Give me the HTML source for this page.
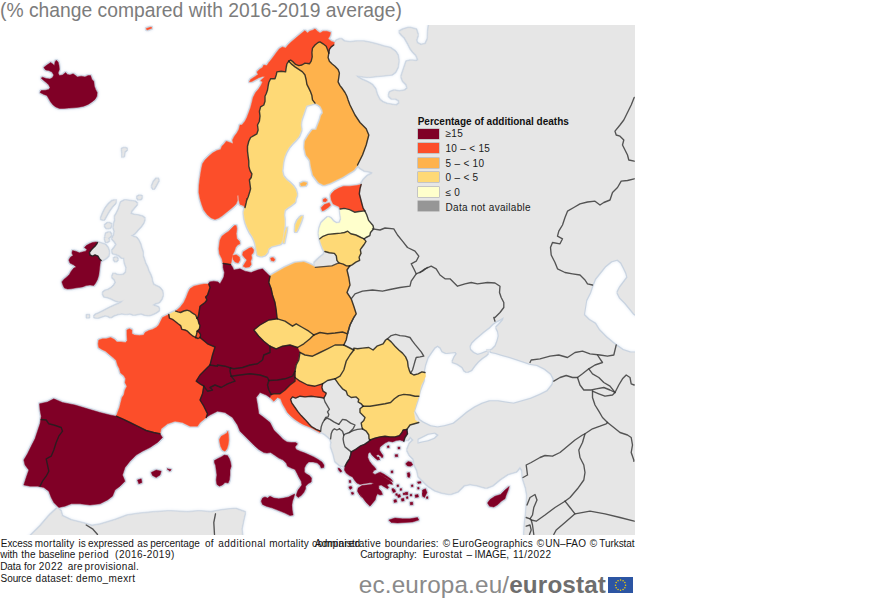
<!DOCTYPE html>
<html><head><meta charset="utf-8"><title>Excess mortality</title>
<style>
html,body{margin:0;padding:0;background:#fff;}
body{width:870px;height:600px;position:relative;overflow:hidden;font-family:"Liberation Sans",sans-serif;}
.title{position:absolute;left:0;top:-1px;font-size:19.3px;color:#7c7c7c;white-space:nowrap;line-height:24px;}
.lt{position:absolute;left:417.7px;top:114.8px;font-size:10px;font-weight:bold;color:#111;white-space:nowrap;line-height:14px;}
.sw{position:absolute;left:418px;width:21px;height:10px;box-shadow:0 0 0 0.5px rgba(120,120,120,.6);}
.ll{position:absolute;left:445.5px;font-size:10px;letter-spacing:0.3px;color:#1a1a1a;white-space:nowrap;line-height:13px;}
.ft{position:absolute;font-size:10px;color:#151515;white-space:nowrap;line-height:11.8px;}
.logo{position:absolute;left:358.8px;top:570.7px;font-size:24.3px;line-height:28px;color:#8a8a8a;white-space:nowrap;letter-spacing:0.14px;}
.logo b{color:#6e6e6e;font-weight:bold;letter-spacing:0.12px;}
.flag{position:absolute;left:608px;top:577px;width:25.1px;height:16.3px;background:#2c55a3;}
</style></head><body>
<div class="title">(% change compared with 2016-2019 average)</div>
<svg width="635" height="510" viewBox="0 25 635 510" style="position:absolute;left:0;top:25px;">
<defs>
<filter id="glow" filterUnits="userSpaceOnUse" x="-20" y="5" width="675" height="550">
<feMorphology in="SourceAlpha" operator="dilate" radius="1.2" result="dd"/>
<feGaussianBlur in="dd" stdDeviation="1.7" result="b"/>
<feFlood flood-color="#dfe8f3" flood-opacity="0.95"/><feComposite in2="b" operator="in" result="g"/>
<feMorphology in="SourceAlpha" operator="dilate" radius="0.5" result="d"/>
<feGaussianBlur in="d" stdDeviation="0.5" result="d2"/>
<feFlood flood-color="#c3cedc" flood-opacity="0.85"/><feComposite in2="d2" operator="in" result="o"/>
<feMerge><feMergeNode in="g"/><feMergeNode in="o"/><feMergeNode in="SourceGraphic"/></feMerge>
</filter>
<mask id="seamask" maskUnits="userSpaceOnUse" x="-20" y="5" width="675" height="550"><rect x="-20" y="5" width="675" height="550" fill="#fff"/><path d="M423.8 371.2 L425.0 365.0 L427.5 357.5 L430.0 353.8 L431.2 351.9 L434.4 347.5 L437.5 345.6 L440.6 347.5 L442.5 351.2 L446.2 353.1 L450.6 352.5 L455.6 351.9 L456.9 353.8 L454.4 357.5 L452.5 361.9 L457.5 363.8 L462.5 366.9 L464.4 370.6 L466.9 371.9 L471.2 370.0 L474.4 365.6 L478.1 361.2 L481.9 358.1 L485.6 355.6 L488.1 353.1 L489.8 352.2 L491.2 351.9 L496.2 353.1 L502.5 355.0 L510.0 356.9 L517.5 359.4 L525.0 361.9 L530.0 363.8 L537.5 365.0 L545.0 368.8 L551.2 373.8 L553.8 378.8 L552.5 385.0 L547.5 391.2 L540.0 395.0 L531.2 398.8 L522.5 401.2 L513.8 403.8 L505.0 402.5 L497.5 401.2 L490.0 401.2 L482.5 403.8 L475.0 407.5 L467.5 412.5 L460.0 418.8 L453.8 423.8 L445.0 426.2 L437.5 427.5 L430.0 426.2 L422.5 422.5 L418.8 420.0 L413.8 411.2 L417.5 400.0 L420.0 390.0 L423.8 380.0Z M503.8 316.9 L500.0 319.4 L496.2 321.2 L492.5 323.8 L488.8 327.5 L483.8 331.2 L479.4 335.0 L475.0 338.8 L471.2 342.5 L469.4 346.2 L470.0 350.0 L473.1 353.1 L477.5 355.0 L481.9 353.8 L486.2 351.9 L488.8 351.2 L492.5 349.4 L495.6 346.2 L497.5 341.2 L498.8 336.2 L498.1 331.2 L496.2 327.5 L500.0 323.8 L503.1 320.0Z M486.9 350.6 L490.0 350.2 L491.5 352.8 L488.1 353.8Z M592.5 285.0 L595.0 278.8 L600.0 272.5 L605.0 266.2 L611.2 261.2 L617.5 259.5 L621.2 262.5 L623.8 267.5 L626.2 272.5 L627.5 277.5 L623.8 282.5 L620.0 287.5 L617.5 292.5 L620.0 297.5 L625.0 302.5 L631.2 310.0 L634.2 313.8 L645.0 320.0 L645.0 352.5 L634.2 352.5 L630.0 352.5 L622.5 350.0 L613.8 343.8 L606.2 337.5 L598.8 330.0 L595.0 323.8 L588.8 320.0 L583.8 315.0 L583.8 315.0 L585.0 307.5 L586.2 300.0 L590.0 292.5Z M420.0 437.5 L427.5 433.8 L435.0 432.5 L438.8 435.0 L435.0 438.8 L428.8 441.2 L422.5 442.5 L417.5 443.8 L417.5 438.8Z" fill="#000"/></mask>
</defs>
<rect x="0" y="25" width="635" height="510" fill="#fff"/>
<g filter="url(#glow)"><g mask="url(#seamask)"><path d="M122.1 149.1 L124.7 148.2 L126.8 149.1 L125.6 150.5 L124.2 151.4 L123.8 155.7 L122.6 156.6 L122.6 152.2Z M97.5 242.5 L96.9 243.8 L95.0 246.2 L93.1 248.1 L91.2 250.0 L89.4 252.5 L90.0 255.0 L92.5 256.2 L95.0 255.0 L98.1 256.2 L99.4 258.8 L101.2 260.6 L103.1 259.4 L105.6 258.1 L108.1 255.6 L108.8 251.9 L107.5 248.1 L105.0 245.0 L101.2 243.8Z M121.2 202.5 L125.0 200.6 L130.0 201.2 L135.0 201.9 L136.9 203.8 L133.8 207.5 L131.2 210.6 L130.0 213.8 L133.1 215.0 L137.5 215.6 L142.5 216.9 L144.4 218.8 L143.1 222.5 L140.6 226.2 L137.5 229.4 L135.0 232.5 L132.5 234.4 L130.0 235.6 L133.1 236.9 L136.2 238.1 L138.1 240.6 L140.0 244.4 L141.2 248.8 L142.5 252.5 L142.5 256.2 L143.8 260.0 L145.0 263.8 L146.9 267.5 L148.1 271.2 L150.0 275.0 L151.2 278.1 L151.9 281.9 L153.1 285.0 L155.6 286.2 L159.4 288.1 L161.9 291.2 L162.5 295.0 L161.2 298.8 L158.8 301.9 L155.0 303.1 L151.9 305.0 L154.4 306.2 L158.1 307.5 L158.8 310.0 L156.2 311.9 L152.5 313.8 L148.8 315.0 L145.0 314.4 L141.2 313.1 L137.5 313.8 L133.8 314.4 L130.0 313.1 L126.2 313.8 L121.9 313.1 L117.5 313.8 L113.8 315.0 L110.6 316.9 L108.1 315.6 L105.0 315.0 L101.2 316.2 L97.5 317.5 L94.4 316.9 L95.6 315.0 L98.8 313.8 L102.5 311.9 L106.2 310.0 L110.0 308.1 L113.8 306.2 L118.1 304.4 L121.9 302.5 L124.4 299.4 L122.5 300.6 L118.8 301.2 L115.0 300.0 L111.2 298.1 L108.1 296.9 L104.4 296.2 L103.1 293.1 L105.0 291.2 L108.8 290.0 L111.9 288.1 L114.4 285.6 L116.2 282.5 L115.0 279.4 L112.5 276.9 L113.8 273.8 L116.2 275.0 L120.0 275.6 L123.8 275.0 L126.2 272.5 L126.9 267.5 L125.0 262.5 L124.4 257.5 L121.9 257.5 L119.4 255.0 L116.2 253.8 L113.1 253.1 L112.5 250.6 L115.0 247.5 L116.9 244.4 L115.0 241.2 L112.5 238.8 L114.4 235.0 L115.0 231.2 L113.8 227.5 L114.4 223.8 L115.6 220.0 L115.0 216.9 L116.9 213.8 L118.8 210.0 L120.0 206.2Z M101.2 218.8 L103.1 213.8 L105.6 208.8 L108.8 204.4 L112.5 201.2 L115.6 200.6 L115.0 203.1 L111.9 206.2 L108.8 210.6 L106.2 215.0 L103.8 219.4Z M105.0 225.6 L108.1 223.1 L111.2 224.4 L110.0 227.5 L106.9 228.1Z M106.2 233.8 L109.4 232.5 L111.2 235.0 L108.8 237.5 L105.6 236.9Z M105.0 238.1 L107.5 237.5 L108.8 240.6 L106.2 241.9Z M137.3 197.1 L139.9 195.8 L141.6 196.6 L140.8 198.8 L138.6 199.2Z M152.2 186.5 L154.1 181.8 L156.9 178.6 L158.4 179.9 L156.0 184.6 L153.6 188.7Z M113.8 258.8 L116.2 257.5 L117.5 259.4 L115.6 261.2Z M86.9 315.6 L88.5 315.0 L89.0 316.9 L87.2 317.2Z M324.9 251.5 L329.3 252.7 L334.4 253.4 L336.3 255.9 L336.9 260.3 L338.8 262.9 L331.8 265.8 L315.3 267.3 L314.7 262.9 L319.2 258.4 L324.2 254.6Z M320.6 431.2 L316.2 429.4 L311.9 426.9 L308.8 423.8 L305.0 419.4 L301.2 415.6 L298.1 411.9 L295.0 407.5 L291.9 403.1 L290.6 399.4 L292.5 396.9 L295.6 398.1 L300.0 396.2 L305.0 396.9 L311.2 396.2 L316.2 396.9 L321.2 397.5 L323.8 398.1 L325.0 401.9 L327.5 406.2 L329.4 409.4 L327.5 411.9 L328.8 414.4 L328.1 416.9 L325.6 417.5 L324.4 420.0 L322.5 423.1 L321.2 426.9Z M335.0 378.8 L327.5 380.5 L322.5 383.8 L321.9 387.5 L323.1 391.2 L326.2 393.1 L325.6 395.0 L323.8 398.1 L325.0 401.9 L327.5 406.2 L329.4 409.4 L327.5 411.9 L328.8 414.4 L328.1 416.9 L325.6 417.5 L324.4 420.0 L326.9 418.1 L330.0 419.4 L333.8 421.9 L338.8 424.4 L342.5 419.4 L346.2 420.0 L350.6 423.1 L355.0 425.0 L353.1 428.8 L349.4 432.5 L353.1 430.6 L357.5 429.4 L362.5 428.8 L361.9 426.9 L361.2 423.1 L363.8 420.6 L365.0 417.5 L362.5 415.0 L360.0 412.5 L360.0 408.8 L363.1 406.2 L361.2 403.8 L358.1 401.9 L358.8 399.4 L356.2 396.9 L351.2 397.5 L347.5 395.0 L346.2 391.2 L342.5 388.8 L338.8 384.4Z M324.4 420.0 L326.9 418.1 L330.0 419.4 L333.8 421.9 L338.8 424.4 L339.4 428.8 L336.9 430.0 L334.4 428.8 L332.5 430.6 L331.2 433.8 L330.6 438.8 L328.8 436.9 L325.0 433.8 L320.6 431.2 L321.2 426.9 L322.5 423.1Z M338.8 424.4 L342.5 419.4 L346.2 420.0 L350.6 423.1 L355.0 425.0 L353.1 428.8 L349.4 432.5 L345.6 433.8 L342.5 431.2 L339.4 428.8Z M330.6 438.8 L331.2 433.8 L332.5 430.6 L334.4 428.8 L336.9 430.0 L339.4 428.8 L342.5 431.2 L343.8 435.0 L343.1 438.8 L343.8 443.1 L345.0 446.9 L351.2 451.9 L350.6 455.0 L349.4 458.8 L346.9 462.5 L345.0 466.2 L340.0 465.0 L335.6 461.2 L333.8 453.8 L331.2 446.2 L331.9 442.5Z M343.8 435.0 L345.6 433.8 L349.4 432.5 L353.1 430.6 L357.5 429.4 L362.5 428.8 L366.2 431.2 L368.8 435.0 L369.0 438.8 L370.0 440.0 L368.1 441.9 L364.4 444.4 L360.0 446.2 L355.6 449.4 L351.2 451.9 L345.0 446.9 L343.8 443.1 L343.1 438.8Z M387.5 338.8 L391.2 335.6 L395.6 334.4 L400.0 335.6 L405.0 336.2 L410.0 337.5 L412.5 341.2 L415.0 344.4 L418.1 348.1 L421.2 351.9 L423.8 356.2 L420.0 356.9 L416.2 357.5 L415.0 361.2 L413.8 365.6 L412.5 370.0 L410.6 373.1 L409.4 370.6 L408.1 366.2 L407.5 361.2 L405.6 356.9 L402.5 353.1 L398.8 350.0 L395.0 346.2 L391.2 341.9Z M333.8 45.0 L336.7 40.8 L340.8 39.2 L344.2 41.7 L350.0 42.5 L356.7 41.7 L363.3 41.7 L370.0 43.0 L376.7 44.7 L383.3 46.7 L390.0 48.3 L395.0 51.7 L397.5 55.8 L398.3 60.8 L397.5 66.7 L395.0 71.7 L391.7 74.2 L385.0 75.0 L376.7 75.8 L368.3 76.7 L360.0 75.8 L355.3 75.0 L357.5 77.5 L361.7 80.0 L367.5 82.5 L371.7 85.0 L375.0 89.2 L376.7 95.0 L379.2 100.0 L382.5 102.5 L386.7 104.2 L391.7 105.0 L396.7 105.8 L399.7 103.3 L399.2 100.0 L395.8 98.3 L391.7 98.3 L389.2 95.8 L390.0 92.5 L394.2 90.8 L399.2 91.7 L405.0 90.8 L408.0 88.3 L406.7 84.2 L403.3 80.8 L401.7 76.7 L403.3 71.7 L405.0 66.7 L406.7 61.7 L410.8 60.8 L416.7 61.3 L418.7 60.0 L416.7 55.0 L413.3 51.7 L410.8 48.3 L408.3 43.3 L405.0 37.5 L401.7 34.2 L399.7 31.7 L403.3 29.7 L409.2 28.0 L415.8 29.7 L417.5 35.0 L415.8 40.0 L416.7 43.3 L420.8 45.3 L425.8 44.2 L428.0 39.2 L428.3 31.7 L429.2 25.0 L429.2 18.3 L660.0 15.0 L660.0 560.0 L524.5 550.0 L524.5 534.5 L525.0 525.0 L526.2 515.0 L527.0 505.0 L527.5 495.0 L526.2 487.5 L523.0 477.5 L522.5 470.0 L520.0 466.2 L516.2 471.2 L507.5 473.8 L500.0 478.8 L492.5 485.0 L486.2 487.5 L477.5 485.0 L470.0 483.8 L463.8 485.0 L457.5 491.2 L450.0 493.8 L442.5 492.5 L435.0 490.0 L427.5 485.0 L420.0 477.5 L418.8 476.2 L417.5 470.0 L415.0 465.0 L413.8 458.8 L410.0 455.0 L407.5 450.0 L410.0 443.8 L413.8 440.0 L410.0 436.2 L407.5 440.0 L404.5 438.8 L400.0 428.8 L385.0 420.0 L372.5 377.5 L322.5 365.0 L310.0 290.0 L340.0 247.5 L347.5 225.0 L350.0 197.5 L361.2 184.4 L363.8 180.0 L367.5 176.2 L371.2 174.4 L373.1 172.5 L370.0 171.2 L365.0 170.6 L360.0 167.5 L358.1 165.0 L335.0 125.0 L322.5 62.5 L328.8 53.1Z M15.0 560.0 L27.5 539.3 L32.0 534.8 L40.9 525.9 L49.9 515.4 L57.4 508.5 L60.3 510.9 L61.8 516.3 L70.8 520.5 L82.8 523.5 L91.7 526.2 L100.7 524.7 L115.6 520.2 L127.6 515.7 L139.5 513.9 L154.5 512.4 L169.4 511.5 L187.4 512.4 L199.3 511.5 L211.3 512.4 L223.2 510.3 L235.2 509.1 L244.7 512.4 L243.0 519.9 L241.2 528.9 L242.7 542.3 L243.0 560.0Z M43.8 67.5 L46.2 65.6 L48.8 63.8 L50.6 62.5 L52.5 63.8 L54.4 65.6 L55.0 61.9 L56.2 60.2 L58.1 61.9 L59.0 65.6 L59.4 69.4 L58.1 73.1 L59.4 75.6 L62.5 75.0 L65.6 72.5 L67.5 74.4 L70.0 75.0 L73.1 73.8 L75.6 75.6 L77.5 76.9 L81.2 76.2 L85.0 76.9 L88.1 75.6 L90.6 75.6 L91.9 79.4 L93.8 81.2 L94.4 86.2 L95.6 89.4 L97.2 92.5 L96.9 96.2 L95.0 99.4 L91.9 101.9 L88.1 104.4 L83.8 106.2 L78.8 107.2 L73.8 107.8 L68.8 108.1 L63.8 108.5 L59.4 108.5 L55.6 106.9 L53.1 105.0 L50.6 101.9 L48.8 98.8 L46.9 95.6 L43.8 94.4 L40.0 92.5 L41.2 90.6 L45.6 90.2 L48.8 89.4 L50.0 87.5 L48.8 85.0 L46.2 82.5 L43.1 80.0 L41.2 78.1 L42.5 77.2 L46.2 78.5 L50.0 79.0 L52.5 77.5 L53.8 75.0 L51.9 71.9 L48.8 70.6 L45.6 70.0Z M146.2 28.5 L151.2 27.0 L151.8 28.2 L147.0 30.0Z M97.5 242.5 L96.2 241.9 L92.5 242.5 L89.4 243.8 L86.2 245.6 L84.4 247.5 L86.9 249.4 L85.6 251.2 L82.5 251.9 L79.4 252.8 L75.6 251.2 L72.5 250.6 L71.9 253.1 L73.1 255.6 L70.6 256.9 L68.8 260.0 L70.0 263.1 L73.8 265.0 L76.2 266.9 L73.8 268.1 L71.2 271.2 L69.4 274.4 L66.9 276.9 L63.8 279.4 L61.9 281.9 L63.1 285.6 L64.4 288.1 L67.5 289.0 L71.2 288.8 L75.0 288.1 L78.8 287.5 L82.5 286.9 L86.2 285.6 L90.0 285.0 L93.8 285.6 L95.6 283.1 L97.5 279.4 L98.8 275.0 L99.4 270.0 L100.0 265.0 L100.6 260.6 L101.2 260.6 L99.4 258.8 L98.1 256.2 L95.0 255.0 L92.5 256.2 L90.0 255.0 L89.4 252.5 L91.2 250.0 L93.1 248.1 L95.0 246.2 L96.9 243.8Z M245.0 207.5 L243.1 205.6 L240.0 204.4 L238.8 200.0 L238.5 195.6 L237.2 195.6 L237.5 200.6 L236.2 203.8 L233.8 206.2 L230.0 209.4 L226.2 212.5 L222.5 215.6 L218.8 218.1 L215.0 219.4 L211.2 218.1 L207.5 215.0 L203.8 210.0 L201.9 205.0 L200.0 198.8 L198.8 192.5 L199.0 185.0 L200.0 177.5 L201.2 170.0 L202.5 163.8 L205.0 160.0 L208.8 156.2 L212.5 153.1 L216.9 150.6 L220.6 149.4 L221.9 146.2 L224.4 143.8 L226.2 141.2 L230.0 142.5 L233.1 143.8 L232.5 140.0 L234.4 136.2 L236.9 133.1 L238.8 129.4 L240.0 125.0 L241.9 125.0 L245.0 121.2 L246.9 117.5 L248.8 112.5 L250.6 107.5 L251.9 102.5 L253.1 97.5 L255.6 92.5 L258.8 88.8 L261.2 85.0 L262.5 81.9 L260.6 80.6 L262.5 78.8 L265.0 76.5 L262.5 76.5 L258.8 77.8 L255.0 79.8 L251.9 81.5 L249.4 81.9 L250.6 79.4 L254.4 76.9 L258.1 74.4 L256.9 71.9 L259.4 69.4 L262.5 67.5 L263.8 65.0 L266.9 65.6 L268.8 62.5 L270.0 61.2 L273.8 56.2 L276.9 51.9 L279.4 48.8 L282.5 46.9 L285.6 48.1 L288.1 45.0 L291.2 41.9 L295.0 38.8 L298.8 35.6 L302.5 32.5 L305.0 30.6 L307.5 33.1 L309.4 31.2 L313.1 30.0 L315.0 28.8 L317.5 31.2 L320.0 33.1 L323.1 31.2 L326.9 31.2 L330.6 32.5 L330.0 35.6 L328.1 38.8 L331.2 41.2 L334.4 42.5 L333.8 45.0 L331.2 46.9 L329.4 49.4 L328.8 53.1 L327.5 49.4 L326.2 46.2 L323.1 43.8 L320.0 41.9 L318.1 42.5 L315.0 45.0 L312.5 48.1 L311.9 52.5 L312.2 56.9 L311.2 61.2 L309.4 63.8 L305.0 63.1 L301.9 65.0 L298.8 65.6 L295.6 64.4 L293.1 61.9 L290.6 60.0 L288.8 61.2 L286.9 63.8 L286.2 67.5 L285.6 71.9 L281.2 71.2 L276.9 71.9 L276.2 75.0 L275.0 78.8 L270.6 78.8 L268.8 82.5 L268.1 86.2 L267.5 90.0 L266.2 93.8 L265.0 96.2 L265.0 101.2 L263.8 105.0 L260.6 106.9 L259.4 111.2 L260.0 116.2 L259.4 121.2 L257.5 125.0 L258.1 130.0 L256.9 133.8 L253.8 135.6 L250.6 137.5 L248.8 141.2 L247.5 146.2 L247.5 151.2 L248.1 156.2 L248.8 161.2 L248.8 166.2 L250.0 170.6 L251.9 173.8 L251.2 177.5 L249.4 180.0 L250.0 184.4 L250.6 188.8 L249.4 193.1 L248.1 196.9 L246.9 199.9 L246.9 198.8 L246.2 202.5Z M245.0 207.5 L246.2 202.5 L246.9 198.8 L246.9 199.9 L248.1 196.9 L249.4 193.1 L250.6 188.8 L250.0 184.4 L249.4 180.0 L251.2 177.5 L251.9 173.8 L250.0 170.6 L248.8 166.2 L248.8 161.2 L248.1 156.2 L247.5 151.2 L247.5 146.2 L248.8 141.2 L250.6 137.5 L253.8 135.6 L256.9 133.8 L258.1 130.0 L257.5 125.0 L259.4 121.2 L260.0 116.2 L259.4 111.2 L260.6 106.9 L263.8 105.0 L265.0 101.2 L265.0 96.2 L266.2 93.8 L267.5 90.0 L268.1 86.2 L268.8 82.5 L270.6 78.8 L275.0 78.8 L276.2 75.0 L276.9 71.9 L281.2 71.2 L285.6 71.9 L286.2 67.5 L286.9 63.8 L288.8 61.2 L291.9 64.4 L295.0 66.9 L298.8 69.4 L302.5 71.9 L305.0 75.0 L306.2 80.0 L306.9 84.4 L308.8 88.1 L310.6 91.9 L311.9 95.6 L312.5 99.9 L315.0 103.1 L310.0 104.4 L306.2 105.6 L305.0 108.8 L303.8 112.5 L302.5 116.2 L301.2 120.0 L300.6 125.0 L301.2 129.9 L298.8 136.2 L295.6 140.0 L291.9 143.8 L288.8 147.5 L286.2 151.9 L284.4 156.2 L283.1 161.2 L282.5 166.2 L281.9 171.2 L283.1 176.2 L286.2 180.0 L290.0 183.1 L293.1 186.2 L295.6 190.0 L296.9 195.0 L295.6 198.1 L295.0 201.9 L291.2 205.0 L287.5 207.5 L284.4 210.0 L283.8 215.0 L284.4 220.0 L284.4 225.0 L283.8 230.0 L283.1 235.0 L282.5 240.0 L280.6 243.8 L276.2 245.0 L271.2 246.2 L268.1 248.8 L267.5 251.9 L265.0 255.0 L261.2 256.2 L257.5 255.0 L256.9 251.2 L256.2 247.5 L255.6 243.8 L254.4 240.0 L252.5 236.2 L250.0 232.5 L247.5 227.5 L245.6 222.5 L244.4 217.5 L243.8 212.5Z M295.0 231.2 L295.6 225.0 L297.5 220.6 L300.6 216.9 L302.5 216.2 L301.2 220.6 L299.4 225.0 L297.5 229.4 L296.0 231.9Z M283.1 242.5 L284.0 236.2 L285.2 231.2 L286.9 227.5 L286.2 232.5 L285.0 238.1 L284.0 243.1Z M328.8 53.1 L328.1 57.5 L329.4 61.2 L331.9 63.8 L335.0 66.2 L338.1 69.4 L339.4 73.1 L338.8 77.5 L338.1 81.9 L340.0 85.6 L342.5 88.8 L345.0 92.5 L346.9 96.2 L348.1 99.9 L350.0 105.0 L355.0 115.0 L360.0 122.5 L366.2 128.8 L368.8 135.0 L366.2 145.0 L362.5 155.0 L357.5 165.0 L358.1 165.0 L356.2 166.9 L353.8 170.0 L348.8 173.1 L342.5 176.9 L336.2 180.0 L330.0 183.1 L323.8 185.0 L318.8 182.5 L313.1 175.0 L311.2 167.5 L310.0 160.0 L306.2 155.0 L304.5 147.5 L305.0 141.2 L308.8 135.0 L312.5 130.0 L316.2 129.9 L318.1 125.0 L320.0 120.0 L321.2 115.6 L323.1 113.1 L322.5 110.0 L320.6 106.2 L318.1 104.4 L315.0 103.1 L312.5 99.9 L311.9 95.6 L310.6 91.9 L308.8 88.1 L306.9 84.4 L306.2 80.0 L305.0 75.0 L302.5 71.9 L298.8 69.4 L295.0 66.9 L291.9 64.4 L288.8 61.2 L290.6 60.0 L293.1 61.9 L295.6 64.4 L298.8 65.6 L301.9 65.0 L305.0 63.1 L309.4 63.8 L311.2 61.2 L312.2 56.9 L311.9 52.5 L312.5 48.1 L315.0 45.0 L318.1 42.5 L320.0 41.9 L323.1 43.8 L326.2 46.2 L327.5 49.4Z M300.0 183.8 L303.8 182.0 L307.0 183.0 L305.5 185.5 L301.2 186.0Z M236.2 225.6 L236.9 228.8 L236.2 233.8 L236.9 238.8 L239.4 241.2 L240.0 243.8 L237.5 245.0 L235.6 247.5 L234.4 251.2 L232.5 255.0 L231.9 258.8 L231.2 262.5 L230.6 264.6 L226.9 264.0 L223.1 263.4 L221.9 258.8 L219.4 253.8 L218.8 248.8 L219.4 243.8 L220.0 240.0 L221.9 236.2 L225.0 233.8 L228.8 231.2 L231.9 228.1 L234.4 225.6Z M232.5 255.6 L236.2 254.8 L239.4 256.9 L240.0 260.0 L238.1 263.1 L235.0 261.9 L233.1 259.4Z M243.1 251.9 L246.2 250.0 L249.4 248.1 L251.9 247.5 L253.8 250.0 L253.1 253.1 L251.2 255.0 L251.9 258.1 L250.6 261.2 L251.2 264.4 L249.4 266.9 L245.6 267.5 L243.1 266.2 L245.0 263.1 L246.9 260.0 L244.4 257.5 L242.5 255.0Z M270.6 258.1 L273.1 257.5 L275.0 259.4 L273.8 261.2 L271.2 260.6Z M340.1 209.0 L338.8 206.5 L336.9 205.8 L333.1 203.9 L331.2 200.1 L330.6 195.7 L331.3 193.8 L334.4 190.6 L338.8 188.1 L343.7 186.2 L349.9 186.2 L356.3 185.6 L361.2 184.4 L360.0 188.7 L359.3 193.8 L360.6 198.7 L361.9 203.7 L363.1 208.1 L364.8 210.9 L359.1 211.5 L354.6 212.2 L349.6 209.6 L344.5 208.4Z M321.1 207.7 L324.2 204.6 L329.3 202.7 L330.6 205.2 L328.0 207.7 L324.2 210.3 L322.3 210.9Z M323.0 199.5 L325.5 198.2 L327.4 200.1 L325.5 202.0 L323.2 201.4Z M319.8 238.8 L318.9 233.1 L319.8 228.0 L321.7 223.0 L324.9 219.8 L328.0 217.2 L330.6 218.5 L333.1 221.7 L336.3 223.6 L340.1 223.0 L341.3 219.2 L340.7 214.1 L340.1 209.0 L344.5 208.4 L349.6 209.6 L354.6 212.2 L359.1 211.5 L364.8 210.9 L366.7 214.7 L368.6 220.4 L373.0 225.5 L373.7 228.7 L370.5 232.5 L369.8 235.6 L366.0 237.5 L364.1 238.8 L361.0 237.5 L355.9 235.0 L350.8 233.7 L347.7 231.2 L344.5 232.5 L340.7 233.1 L334.4 233.7 L328.0 234.4 L323.0 236.3Z M319.8 238.8 L323.0 236.3 L328.0 234.4 L334.4 233.7 L340.7 233.1 L344.5 232.5 L347.7 231.2 L350.8 233.7 L355.9 235.0 L361.0 237.5 L364.1 238.8 L366.0 241.3 L364.1 244.5 L362.2 247.0 L360.3 249.6 L361.0 253.4 L359.1 257.2 L359.7 260.3 L355.9 262.2 L352.1 264.8 L349.6 266.0 L346.4 265.9 L343.2 264.1 L338.8 262.9 L336.9 260.3 L336.3 255.9 L334.4 253.4 L329.3 252.7 L324.9 251.5 L323.0 248.3 L321.1 243.2Z M270.0 276.2 L276.2 272.5 L285.0 267.5 L295.0 263.0 L303.8 262.0 L310.0 264.5 L315.3 267.3 L331.8 265.8 L338.8 262.9 L343.2 264.1 L346.4 265.9 L349.6 266.0 L347.0 270.0 L348.8 277.5 L350.0 285.0 L347.0 292.5 L351.2 298.8 L353.8 306.2 L356.2 313.8 L353.8 317.5 L350.0 325.0 L347.5 333.8 L342.5 332.0 L335.0 333.0 L327.5 333.8 L320.0 332.5 L313.8 335.0 L308.8 331.2 L302.5 327.5 L296.2 323.8 L292.5 326.2 L285.0 321.2 L277.5 318.8 L277.0 317.5 L276.2 310.0 L275.0 302.5 L272.5 295.0 L271.2 288.8 L268.8 282.5 L270.0 276.2Z M277.5 318.8 L285.0 321.2 L292.5 326.2 L296.2 323.8 L302.5 327.5 L308.8 331.2 L313.8 335.0 L310.0 338.8 L303.8 343.8 L297.5 347.5 L290.0 345.0 L282.5 346.2 L276.2 348.8 L270.0 346.2 L263.8 341.2 L258.8 336.2 L253.8 330.0 L260.0 325.0 L268.8 320.0 L277.5 318.8Z M297.5 347.5 L303.8 343.8 L310.0 338.8 L313.8 335.0 L320.0 332.5 L327.5 333.8 L335.0 333.0 L342.5 332.0 L347.5 333.8 L346.2 340.0 L343.8 345.0 L335.0 345.0 L327.5 348.8 L320.0 352.5 L312.5 356.2 L305.0 355.0 L300.0 352.5 L297.5 347.5Z M230.5 368.0 L233.8 368.8 L242.5 367.5 L250.0 365.0 L257.5 363.8 L262.5 360.0 L263.8 355.0 L270.0 352.5 L270.0 346.2 L276.2 348.8 L282.5 346.2 L290.0 345.0 L297.5 347.5 L300.0 352.5 L298.8 360.0 L296.2 365.0 L295.0 371.2 L292.5 376.2 L285.0 378.8 L277.5 380.0 L268.8 380.5 L267.5 377.5 L260.0 375.0 L250.0 373.8 L240.0 375.0 L231.2 376.2 L230.0 371.2 L230.5 368.0Z M300.0 352.5 L305.0 355.0 L312.5 356.2 L320.0 352.5 L327.5 348.8 L335.0 345.0 L343.8 345.0 L348.8 347.5 L353.8 350.0 L350.0 355.0 L346.2 361.2 L343.8 370.0 L340.0 376.2 L335.0 378.8 L327.5 380.5 L322.5 383.8 L315.0 386.2 L307.5 385.0 L300.0 381.2 L295.0 377.5 L295.0 371.2 L296.2 365.0 L298.8 360.0 L300.0 352.5Z M268.8 380.5 L277.5 380.0 L285.0 378.8 L292.5 376.2 L295.0 371.2 L295.0 377.5 L295.0 381.2 L290.0 385.0 L285.0 390.0 L280.0 393.8 L273.8 393.8 L271.2 394.5 L268.8 390.0 L267.5 385.0 L268.8 380.5Z M271.2 394.5 L273.8 393.8 L280.0 393.8 L285.0 390.0 L290.0 385.0 L295.0 381.2 L295.0 377.5 L300.0 381.2 L307.5 385.0 L315.0 386.2 L322.5 383.8 L321.9 387.5 L323.1 391.2 L326.2 393.1 L325.6 395.0 L323.8 398.1 L321.2 397.5 L316.2 396.9 L311.2 396.2 L305.0 396.9 L300.0 396.2 L295.6 398.1 L292.5 396.9 L290.6 399.4 L291.9 403.1 L295.0 407.5 L298.1 411.9 L301.2 415.6 L305.0 419.4 L308.8 423.8 L311.9 426.9 L316.2 429.4 L320.6 431.2 L320.0 432.5 L316.2 430.6 L311.9 428.1 L307.5 426.2 L303.1 424.4 L298.8 421.9 L295.0 419.4 L291.2 416.2 L287.5 412.5 L285.0 408.1 L282.5 403.8 L280.6 398.8 L277.5 397.5 L273.8 401.2 L270.0 397.5Z M335.0 378.8 L340.0 376.2 L343.8 370.0 L346.2 361.2 L350.0 355.0 L353.8 350.0 L353.8 348.1 L357.5 348.8 L362.5 348.1 L368.8 347.5 L373.1 350.0 L376.9 346.2 L383.1 343.8 L385.6 340.0 L387.5 338.8 L391.2 341.9 L395.0 346.2 L398.8 350.0 L402.5 353.1 L405.6 356.9 L407.5 361.2 L408.1 366.2 L409.4 370.6 L410.6 373.1 L413.8 375.0 L418.1 373.8 L421.9 371.9 L425.0 372.5 L425.6 376.2 L423.8 380.0 L421.2 385.0 L420.0 390.0 L419.4 394.9 L418.8 396.2 L415.0 396.2 L410.0 395.0 L403.8 394.4 L398.8 395.6 L394.4 398.8 L390.6 402.5 L385.0 403.8 L377.5 405.0 L370.0 406.2 L363.1 406.2 L361.2 403.8 L358.1 401.9 L358.8 399.4 L356.2 396.9 L351.2 397.5 L347.5 395.0 L346.2 391.2 L342.5 388.8 L338.8 384.4 L335.0 378.8Z M363.1 406.2 L370.0 406.2 L377.5 405.0 L385.0 403.8 L390.6 402.5 L394.4 398.8 L398.8 395.6 L403.8 394.4 L410.0 395.0 L415.0 396.2 L418.8 396.2 L416.2 403.8 L413.8 412.5 L415.0 420.0 L418.8 422.5 L410.0 425.0 L406.9 429.4 L403.1 430.0 L401.9 432.5 L399.4 435.6 L395.0 436.9 L390.0 436.9 L385.0 436.2 L380.0 436.9 L375.0 438.1 L370.0 440.0 L369.0 438.8 L368.8 435.0 L366.2 431.2 L362.5 428.8 L361.9 426.9 L361.2 423.1 L363.8 420.6 L365.0 417.5 L362.5 415.0 L360.0 412.5 L360.0 408.8Z M345.0 466.2 L346.9 462.5 L349.4 458.8 L350.6 455.0 L351.2 451.9 L355.6 449.4 L360.0 446.2 L364.4 444.4 L368.1 441.9 L370.0 440.0 L375.0 438.1 L380.0 436.9 L385.0 436.2 L390.0 436.9 L395.0 436.9 L399.4 435.6 L401.9 432.5 L403.1 430.0 L406.9 429.4 L407.5 433.8 L405.0 437.5 L403.8 441.2 L400.0 440.0 L396.2 440.6 L392.5 441.9 L388.8 441.2 L385.0 443.1 L382.5 445.0 L380.0 446.9 L379.4 450.0 L381.2 453.1 L383.1 455.6 L380.6 456.2 L378.1 454.4 L376.2 455.6 L378.1 458.1 L380.0 459.4 L377.5 460.0 L374.4 457.5 L371.9 455.0 L370.0 451.9 L368.1 453.8 L367.8 457.5 L369.4 461.2 L371.9 464.4 L374.4 466.9 L376.2 469.4 L373.8 470.6 L372.5 473.1 L375.0 474.4 L378.1 473.1 L381.2 475.0 L385.0 477.5 L388.8 480.0 L391.9 482.5 L392.5 484.4 L389.4 483.8 L386.9 485.0 L388.8 487.5 L387.5 488.8 L384.4 486.9 L381.2 485.0 L378.8 485.6 L378.8 488.8 L381.2 491.2 L382.5 494.4 L380.0 495.0 L377.5 493.8 L376.2 496.2 L375.2 500.0 L370.0 506.2 L366.2 502.5 L362.5 497.5 L358.8 492.5 L361.9 497.5 L359.4 494.4 L357.5 491.2 L358.1 488.1 L361.9 485.6 L366.2 485.0 L371.2 484.4 L373.8 483.1 L370.0 482.8 L365.0 483.5 L360.0 484.4 L356.9 483.1 L354.4 480.0 L352.5 476.9 L349.4 475.6 L346.2 473.1 L344.4 470.0Z M388.8 520.0 L395.0 518.0 L402.5 518.8 L410.0 518.8 L417.5 517.5 L418.8 520.0 L412.5 522.0 L405.0 522.5 L397.5 523.0 L391.2 522.5Z M378.1 473.1 L380.2 472.2 L383.8 474.0 L387.5 476.5 L391.0 479.0 L392.8 481.5 L390.0 480.6 L386.2 478.1 L382.5 476.0Z M405.6 463.8 L408.1 461.5 L411.2 462.2 L412.8 464.8 L410.6 466.2 L407.5 466.0Z M407.2 473.1 L409.4 472.5 L410.2 475.0 L409.4 477.5 L407.8 476.9Z M417.5 481.9 L420.6 481.5 L421.0 483.1 L418.1 483.5Z M338.1 468.1 L340.0 468.8 L341.9 471.2 L340.6 472.2 L338.8 470.2Z M348.8 486.9 L351.2 486.2 L352.2 488.1 L350.0 489.4Z M351.2 492.5 L353.1 492.2 L353.8 494.0 L351.9 494.4Z M349.0 480.6 L350.6 480.2 L351.0 482.5 L349.4 482.8Z M387.2 446.0 L389.0 445.8 L389.2 447.5 L387.5 447.8Z M397.9 447.2 L399.8 447.0 L400.0 448.8 L398.1 449.0Z M395.0 454.8 L397.5 454.5 L397.9 456.5 L395.4 456.8Z M391.0 471.0 L392.8 470.8 L393.0 472.8 L391.2 473.0Z M377.5 457.2 L379.0 457.0 L379.2 458.5 L377.8 458.8Z M381.2 456.0 L382.8 455.8 L383.0 457.2 L381.5 457.5Z M396.9 485.0 L398.5 484.8 L398.8 486.5 L397.1 486.8Z M400.0 488.8 L401.5 488.5 L401.8 490.2 L400.2 490.5Z M403.1 493.1 L404.8 492.9 L405.0 494.6 L403.4 494.9Z M406.2 496.9 L407.9 496.6 L408.1 498.4 L406.5 498.6Z M410.0 494.4 L411.6 494.1 L411.9 495.9 L410.2 496.1Z M411.2 485.0 L412.9 484.8 L413.1 486.5 L411.5 486.8Z M417.5 487.5 L419.0 487.2 L419.2 489.0 L417.8 489.2Z M422.5 493.1 L424.0 492.9 L424.2 494.6 L422.8 494.9Z M391.9 488.8 L393.5 488.5 L393.8 490.2 L392.1 490.5Z M395.6 493.8 L397.2 493.5 L397.5 495.2 L395.9 495.5Z M426.2 496.9 L427.8 496.6 L428.0 498.4 L426.5 498.6Z M392.5 490.0 L395.0 489.5 L395.5 492.0 L393.0 492.5Z M397.5 495.0 L400.0 494.5 L400.5 497.0 L398.0 497.5Z M401.2 498.8 L403.8 498.2 L404.2 500.8 L401.8 501.2Z M393.8 500.0 L396.2 499.5 L396.8 502.0 L394.2 502.5Z M405.0 492.5 L407.5 492.0 L408.0 494.5 L405.5 495.0Z M415.0 495.0 L418.0 494.5 L418.5 497.0 L415.5 497.5Z M410.0 502.5 L412.5 502.0 L413.0 504.5 L410.5 505.0Z M422.5 490.0 L425.5 488.8 L427.0 492.5 L424.5 497.5 L422.5 496.2Z M175.6 311.2 L180.0 307.5 L183.8 302.5 L186.2 297.5 L188.1 292.5 L190.0 288.8 L193.8 286.2 L198.8 285.0 L203.8 284.0 L208.8 284.0 L210.0 287.5 L208.8 291.2 L207.5 295.0 L205.6 296.9 L206.9 300.0 L205.0 302.5 L202.5 304.4 L200.0 306.2 L199.4 310.0 L198.8 313.8 L198.1 316.9 L196.9 318.1 L195.6 315.0 L192.5 313.1 L190.0 311.2 L186.9 310.2 L183.8 311.0 L180.6 312.5 L178.1 311.9Z M175.6 311.2 L168.8 314.4 L169.4 318.1 L172.5 319.4 L175.0 321.2 L178.1 323.8 L180.6 325.6 L181.9 329.4 L185.0 330.0 L187.5 331.2 L190.0 333.8 L193.1 336.2 L195.6 337.5 L196.5 334.4 L197.2 331.2 L199.4 328.8 L200.0 325.6 L198.8 323.1 L198.1 320.0 L196.9 318.1 L195.6 315.0 L192.5 313.1 L190.0 311.2 L186.9 310.2 L183.8 311.0 L180.6 312.5 L178.1 311.9Z M195.6 337.5 L196.5 334.4 L197.2 331.2 L199.4 332.5 L200.6 335.0 L200.0 337.5 L198.1 338.5Z M116.2 416.2 L119.5 407.5 L122.0 397.5 L123.8 395.0 L125.0 390.0 L126.9 386.2 L125.0 382.5 L125.6 378.8 L123.8 375.6 L120.6 373.1 L119.4 368.8 L117.5 365.0 L116.2 360.6 L113.1 357.5 L109.4 354.4 L105.6 351.2 L101.9 349.4 L98.8 347.5 L98.1 343.8 L98.8 340.0 L102.5 338.8 L106.2 338.8 L110.6 337.5 L114.4 339.4 L116.9 341.9 L121.2 341.9 L125.6 342.5 L127.2 340.6 L126.9 335.0 L126.9 330.0 L129.4 328.8 L131.9 330.0 L131.9 333.8 L134.4 335.0 L139.4 335.6 L143.8 335.0 L145.0 332.5 L148.8 330.6 L152.5 329.4 L156.2 327.5 L158.8 325.0 L162.5 317.5 L168.8 314.4 L169.4 318.1 L172.5 319.4 L175.0 321.2 L178.1 323.8 L180.6 325.6 L181.9 329.4 L185.0 330.0 L187.5 331.2 L190.0 333.8 L193.1 336.2 L195.6 337.5 L198.1 338.5 L200.0 337.5 L207.5 343.8 L215.0 347.0 L212.5 355.0 L210.0 365.0 L206.2 368.8 L200.0 375.0 L196.2 381.2 L200.0 383.8 L203.8 386.2 L202.5 393.8 L200.0 400.0 L203.8 406.2 L207.5 413.8 L206.2 417.5 L200.0 422.5 L197.5 426.2 L190.0 426.2 L182.5 422.5 L175.0 421.2 L167.5 423.8 L161.2 428.8 L160.0 433.8 L153.8 432.5 L146.2 430.5 L137.5 426.2 L130.0 422.5 L122.5 418.8 L116.2 416.2Z M219.4 439.4 L221.2 436.2 L224.4 434.4 L226.9 433.1 L227.8 431.2 L228.5 435.0 L228.8 440.0 L228.1 445.0 L226.9 448.8 L225.0 451.2 L222.5 450.0 L220.6 446.2 L219.8 442.5Z M210.0 365.0 L217.5 366.2 L217.5 365.0 L225.0 366.2 L230.5 368.0 L230.0 371.2 L231.2 376.2 L235.0 381.2 L227.5 383.8 L221.2 387.5 L215.0 385.0 L210.0 387.5 L212.5 390.0 L207.5 391.2 L203.8 386.2 L200.0 383.8 L196.2 381.2 L200.0 375.0 L206.2 368.8 L210.0 365.0Z M208.8 284.0 L209.4 281.9 L213.8 281.2 L218.1 281.9 L220.0 283.8 L222.5 279.4 L223.8 276.9 L224.4 272.5 L223.1 267.5 L223.1 263.4 L226.9 264.0 L230.6 264.6 L232.5 266.9 L233.8 270.0 L240.0 268.8 L245.0 271.2 L251.2 272.5 L257.5 270.0 L262.5 268.8 L266.2 272.5 L270.0 276.2 L268.8 282.5 L271.2 288.8 L272.5 295.0 L275.0 302.5 L276.2 310.0 L277.0 317.5 L277.5 318.8 L268.8 320.0 L260.0 325.0 L253.8 330.0 L258.8 336.2 L263.8 341.2 L270.0 346.2 L270.0 352.5 L263.8 355.0 L262.5 360.0 L257.5 363.8 L250.0 365.0 L242.5 367.5 L233.8 368.8 L230.5 368.0 L225.0 366.2 L217.5 365.0 L217.5 366.2 L210.0 365.0 L212.5 355.0 L215.0 347.0 L207.5 343.8 L200.0 337.5 L200.6 335.0 L199.4 332.5 L197.2 331.2 L199.4 328.8 L200.0 325.6 L198.8 323.1 L198.1 320.0 L196.9 318.1 L198.1 316.9 L198.8 313.8 L199.4 310.0 L200.0 306.2 L202.5 304.4 L205.0 302.5 L206.9 300.0 L205.6 296.9 L207.5 295.0 L208.8 291.2 L210.0 287.5Z M206.2 417.5 L207.5 413.8 L203.8 406.2 L200.0 400.0 L202.5 393.8 L203.8 386.2 L207.5 391.2 L212.5 390.0 L210.0 387.5 L215.0 385.0 L221.2 387.5 L227.5 383.8 L235.0 381.2 L231.2 376.2 L240.0 375.0 L250.0 373.8 L260.0 375.0 L267.5 377.5 L268.8 380.5 L267.5 385.0 L268.8 390.0 L271.2 394.5 L270.0 397.5 L266.2 395.0 L260.0 392.5 L256.2 397.5 L256.2 397.5 L257.5 405.0 L258.8 413.8 L263.8 417.5 L270.0 422.5 L273.8 430.0 L276.2 432.5 L279.4 435.6 L283.1 439.4 L286.9 441.9 L291.2 442.5 L295.6 442.5 L297.5 443.8 L295.0 446.9 L296.2 449.4 L300.0 451.2 L305.0 453.1 L309.4 455.0 L313.8 456.9 L318.1 459.4 L321.9 461.9 L324.0 465.0 L323.8 467.5 L321.2 468.1 L320.0 465.6 L317.5 463.1 L313.1 461.9 L308.8 461.9 L306.2 464.4 L304.4 468.1 L304.4 471.9 L306.2 473.8 L309.4 475.6 L311.5 478.1 L311.2 481.9 L308.1 483.8 L305.6 486.2 L305.6 488.8 L303.8 492.5 L301.2 495.6 L298.1 497.5 L296.2 495.6 L296.9 493.1 L298.1 490.0 L300.0 487.5 L301.9 485.0 L301.2 481.2 L298.8 476.9 L296.9 473.1 L295.0 469.4 L291.2 468.1 L287.5 466.2 L286.2 463.1 L283.1 460.0 L278.8 458.1 L274.4 455.0 L270.6 452.5 L266.9 453.1 L263.8 452.5 L258.8 449.4 L253.8 445.0 L248.8 440.0 L243.8 435.0 L240.0 431.2 L237.5 425.0 L232.5 417.5 L225.0 412.5 L217.5 411.2 L210.0 415.0Z M261.2 501.2 L262.5 498.1 L265.0 496.9 L267.5 498.1 L270.0 496.2 L273.8 498.1 L278.8 498.8 L283.8 498.1 L288.8 496.9 L292.5 495.0 L294.8 494.0 L293.8 497.5 L292.5 501.2 L291.9 505.0 L292.2 510.0 L293.1 515.0 L290.0 515.6 L285.0 513.1 L278.8 510.6 L272.5 508.1 L266.2 506.2 L262.5 504.4Z M214.4 460.6 L217.5 458.8 L221.2 456.9 L224.4 455.0 L227.5 455.6 L229.4 458.8 L230.6 462.5 L231.2 466.2 L230.0 470.0 L230.0 475.0 L229.4 480.0 L228.1 483.1 L225.0 482.5 L222.5 485.0 L219.4 486.2 L216.9 484.4 L216.2 480.0 L216.9 475.0 L216.2 470.0 L215.6 465.6 L214.4 462.5Z M53.8 398.8 L62.5 402.5 L75.0 405.0 L87.5 408.8 L100.0 412.5 L110.0 415.0 L116.2 416.2 L122.5 418.8 L130.0 422.5 L137.5 426.2 L146.2 430.5 L153.8 432.5 L160.0 433.8 L162.5 437.5 L157.5 442.5 L150.0 447.5 L142.5 451.2 L136.2 455.0 L130.0 461.2 L125.0 467.5 L122.5 475.0 L125.0 481.2 L120.0 486.2 L115.0 490.0 L112.5 496.2 L107.5 500.0 L100.0 503.8 L90.0 505.0 L80.0 503.8 L71.2 503.8 L65.0 506.2 L58.8 507.5 L53.8 502.5 L51.2 497.5 L48.8 491.2 L43.8 487.5 L37.5 486.2 L30.0 486.2 L23.8 485.0 L26.2 477.5 L28.8 470.0 L25.0 465.0 L23.8 460.0 L27.5 453.8 L31.2 446.2 L35.0 438.8 L37.5 431.2 L40.0 423.8 L41.2 416.2 L40.0 410.0 L39.5 403.8 L47.5 402.0Z M151.2 472.5 L156.2 470.0 L161.2 471.2 L160.0 475.0 L156.2 477.5 L152.5 475.5Z M167.0 468.8 L171.2 469.5 L170.0 471.2Z M137.5 480.0 L141.2 478.8 L142.0 482.5 L138.8 483.8Z M487.5 503.0 L490.0 499.5 L495.0 496.2 L500.5 494.5 L505.0 490.0 L509.2 486.5 L508.0 490.5 L506.2 495.0 L505.0 498.8 L501.2 501.2 L498.0 504.5 L493.8 507.0 L489.5 506.2Z" fill="#e6e6e6" stroke="#e6e6e6" stroke-width="0.6" stroke-linejoin="round"/></g></g>
<path d="M43.8 67.5 L46.2 65.6 L48.8 63.8 L50.6 62.5 L52.5 63.8 L54.4 65.6 L55.0 61.9 L56.2 60.2 L58.1 61.9 L59.0 65.6 L59.4 69.4 L58.1 73.1 L59.4 75.6 L62.5 75.0 L65.6 72.5 L67.5 74.4 L70.0 75.0 L73.1 73.8 L75.6 75.6 L77.5 76.9 L81.2 76.2 L85.0 76.9 L88.1 75.6 L90.6 75.6 L91.9 79.4 L93.8 81.2 L94.4 86.2 L95.6 89.4 L97.2 92.5 L96.9 96.2 L95.0 99.4 L91.9 101.9 L88.1 104.4 L83.8 106.2 L78.8 107.2 L73.8 107.8 L68.8 108.1 L63.8 108.5 L59.4 108.5 L55.6 106.9 L53.1 105.0 L50.6 101.9 L48.8 98.8 L46.9 95.6 L43.8 94.4 L40.0 92.5 L41.2 90.6 L45.6 90.2 L48.8 89.4 L50.0 87.5 L48.8 85.0 L46.2 82.5 L43.1 80.0 L41.2 78.1 L42.5 77.2 L46.2 78.5 L50.0 79.0 L52.5 77.5 L53.8 75.0 L51.9 71.9 L48.8 70.6 L45.6 70.0Z" fill="#800026" stroke="#800026" stroke-width="0.5" stroke-linejoin="round"/>
<path d="M146.2 28.5 L151.2 27.0 L151.8 28.2 L147.0 30.0Z" fill="#fc4e2a" stroke="#fc4e2a" stroke-width="0.5" stroke-linejoin="round"/>
<path d="M97.5 242.5 L96.2 241.9 L92.5 242.5 L89.4 243.8 L86.2 245.6 L84.4 247.5 L86.9 249.4 L85.6 251.2 L82.5 251.9 L79.4 252.8 L75.6 251.2 L72.5 250.6 L71.9 253.1 L73.1 255.6 L70.6 256.9 L68.8 260.0 L70.0 263.1 L73.8 265.0 L76.2 266.9 L73.8 268.1 L71.2 271.2 L69.4 274.4 L66.9 276.9 L63.8 279.4 L61.9 281.9 L63.1 285.6 L64.4 288.1 L67.5 289.0 L71.2 288.8 L75.0 288.1 L78.8 287.5 L82.5 286.9 L86.2 285.6 L90.0 285.0 L93.8 285.6 L95.6 283.1 L97.5 279.4 L98.8 275.0 L99.4 270.0 L100.0 265.0 L100.6 260.6 L101.2 260.6 L99.4 258.8 L98.1 256.2 L95.0 255.0 L92.5 256.2 L90.0 255.0 L89.4 252.5 L91.2 250.0 L93.1 248.1 L95.0 246.2 L96.9 243.8Z" fill="#800026" stroke="#800026" stroke-width="0.5" stroke-linejoin="round"/>
<path d="M245.0 207.5 L243.1 205.6 L240.0 204.4 L238.8 200.0 L238.5 195.6 L237.2 195.6 L237.5 200.6 L236.2 203.8 L233.8 206.2 L230.0 209.4 L226.2 212.5 L222.5 215.6 L218.8 218.1 L215.0 219.4 L211.2 218.1 L207.5 215.0 L203.8 210.0 L201.9 205.0 L200.0 198.8 L198.8 192.5 L199.0 185.0 L200.0 177.5 L201.2 170.0 L202.5 163.8 L205.0 160.0 L208.8 156.2 L212.5 153.1 L216.9 150.6 L220.6 149.4 L221.9 146.2 L224.4 143.8 L226.2 141.2 L230.0 142.5 L233.1 143.8 L232.5 140.0 L234.4 136.2 L236.9 133.1 L238.8 129.4 L240.0 125.0 L241.9 125.0 L245.0 121.2 L246.9 117.5 L248.8 112.5 L250.6 107.5 L251.9 102.5 L253.1 97.5 L255.6 92.5 L258.8 88.8 L261.2 85.0 L262.5 81.9 L260.6 80.6 L262.5 78.8 L265.0 76.5 L262.5 76.5 L258.8 77.8 L255.0 79.8 L251.9 81.5 L249.4 81.9 L250.6 79.4 L254.4 76.9 L258.1 74.4 L256.9 71.9 L259.4 69.4 L262.5 67.5 L263.8 65.0 L266.9 65.6 L268.8 62.5 L270.0 61.2 L273.8 56.2 L276.9 51.9 L279.4 48.8 L282.5 46.9 L285.6 48.1 L288.1 45.0 L291.2 41.9 L295.0 38.8 L298.8 35.6 L302.5 32.5 L305.0 30.6 L307.5 33.1 L309.4 31.2 L313.1 30.0 L315.0 28.8 L317.5 31.2 L320.0 33.1 L323.1 31.2 L326.9 31.2 L330.6 32.5 L330.0 35.6 L328.1 38.8 L331.2 41.2 L334.4 42.5 L333.8 45.0 L331.2 46.9 L329.4 49.4 L328.8 53.1 L327.5 49.4 L326.2 46.2 L323.1 43.8 L320.0 41.9 L318.1 42.5 L315.0 45.0 L312.5 48.1 L311.9 52.5 L312.2 56.9 L311.2 61.2 L309.4 63.8 L305.0 63.1 L301.9 65.0 L298.8 65.6 L295.6 64.4 L293.1 61.9 L290.6 60.0 L288.8 61.2 L286.9 63.8 L286.2 67.5 L285.6 71.9 L281.2 71.2 L276.9 71.9 L276.2 75.0 L275.0 78.8 L270.6 78.8 L268.8 82.5 L268.1 86.2 L267.5 90.0 L266.2 93.8 L265.0 96.2 L265.0 101.2 L263.8 105.0 L260.6 106.9 L259.4 111.2 L260.0 116.2 L259.4 121.2 L257.5 125.0 L258.1 130.0 L256.9 133.8 L253.8 135.6 L250.6 137.5 L248.8 141.2 L247.5 146.2 L247.5 151.2 L248.1 156.2 L248.8 161.2 L248.8 166.2 L250.0 170.6 L251.9 173.8 L251.2 177.5 L249.4 180.0 L250.0 184.4 L250.6 188.8 L249.4 193.1 L248.1 196.9 L246.9 199.9 L246.9 198.8 L246.2 202.5Z" fill="#fc4e2a" stroke="#fc4e2a" stroke-width="0.5" stroke-linejoin="round"/>
<path d="M245.0 207.5 L246.2 202.5 L246.9 198.8 L246.9 199.9 L248.1 196.9 L249.4 193.1 L250.6 188.8 L250.0 184.4 L249.4 180.0 L251.2 177.5 L251.9 173.8 L250.0 170.6 L248.8 166.2 L248.8 161.2 L248.1 156.2 L247.5 151.2 L247.5 146.2 L248.8 141.2 L250.6 137.5 L253.8 135.6 L256.9 133.8 L258.1 130.0 L257.5 125.0 L259.4 121.2 L260.0 116.2 L259.4 111.2 L260.6 106.9 L263.8 105.0 L265.0 101.2 L265.0 96.2 L266.2 93.8 L267.5 90.0 L268.1 86.2 L268.8 82.5 L270.6 78.8 L275.0 78.8 L276.2 75.0 L276.9 71.9 L281.2 71.2 L285.6 71.9 L286.2 67.5 L286.9 63.8 L288.8 61.2 L291.9 64.4 L295.0 66.9 L298.8 69.4 L302.5 71.9 L305.0 75.0 L306.2 80.0 L306.9 84.4 L308.8 88.1 L310.6 91.9 L311.9 95.6 L312.5 99.9 L315.0 103.1 L310.0 104.4 L306.2 105.6 L305.0 108.8 L303.8 112.5 L302.5 116.2 L301.2 120.0 L300.6 125.0 L301.2 129.9 L298.8 136.2 L295.6 140.0 L291.9 143.8 L288.8 147.5 L286.2 151.9 L284.4 156.2 L283.1 161.2 L282.5 166.2 L281.9 171.2 L283.1 176.2 L286.2 180.0 L290.0 183.1 L293.1 186.2 L295.6 190.0 L296.9 195.0 L295.6 198.1 L295.0 201.9 L291.2 205.0 L287.5 207.5 L284.4 210.0 L283.8 215.0 L284.4 220.0 L284.4 225.0 L283.8 230.0 L283.1 235.0 L282.5 240.0 L280.6 243.8 L276.2 245.0 L271.2 246.2 L268.1 248.8 L267.5 251.9 L265.0 255.0 L261.2 256.2 L257.5 255.0 L256.9 251.2 L256.2 247.5 L255.6 243.8 L254.4 240.0 L252.5 236.2 L250.0 232.5 L247.5 227.5 L245.6 222.5 L244.4 217.5 L243.8 212.5Z" fill="#fed976" stroke="#fed976" stroke-width="0.5" stroke-linejoin="round"/>
<path d="M295.0 231.2 L295.6 225.0 L297.5 220.6 L300.6 216.9 L302.5 216.2 L301.2 220.6 L299.4 225.0 L297.5 229.4 L296.0 231.9Z" fill="#fed976" stroke="#fed976" stroke-width="0.5" stroke-linejoin="round"/>
<path d="M283.1 242.5 L284.0 236.2 L285.2 231.2 L286.9 227.5 L286.2 232.5 L285.0 238.1 L284.0 243.1Z" fill="#fed976" stroke="#fed976" stroke-width="0.5" stroke-linejoin="round"/>
<path d="M328.8 53.1 L328.1 57.5 L329.4 61.2 L331.9 63.8 L335.0 66.2 L338.1 69.4 L339.4 73.1 L338.8 77.5 L338.1 81.9 L340.0 85.6 L342.5 88.8 L345.0 92.5 L346.9 96.2 L348.1 99.9 L350.0 105.0 L355.0 115.0 L360.0 122.5 L366.2 128.8 L368.8 135.0 L366.2 145.0 L362.5 155.0 L357.5 165.0 L358.1 165.0 L356.2 166.9 L353.8 170.0 L348.8 173.1 L342.5 176.9 L336.2 180.0 L330.0 183.1 L323.8 185.0 L318.8 182.5 L313.1 175.0 L311.2 167.5 L310.0 160.0 L306.2 155.0 L304.5 147.5 L305.0 141.2 L308.8 135.0 L312.5 130.0 L316.2 129.9 L318.1 125.0 L320.0 120.0 L321.2 115.6 L323.1 113.1 L322.5 110.0 L320.6 106.2 L318.1 104.4 L315.0 103.1 L312.5 99.9 L311.9 95.6 L310.6 91.9 L308.8 88.1 L306.9 84.4 L306.2 80.0 L305.0 75.0 L302.5 71.9 L298.8 69.4 L295.0 66.9 L291.9 64.4 L288.8 61.2 L290.6 60.0 L293.1 61.9 L295.6 64.4 L298.8 65.6 L301.9 65.0 L305.0 63.1 L309.4 63.8 L311.2 61.2 L312.2 56.9 L311.9 52.5 L312.5 48.1 L315.0 45.0 L318.1 42.5 L320.0 41.9 L323.1 43.8 L326.2 46.2 L327.5 49.4Z" fill="#feb24c" stroke="#feb24c" stroke-width="0.5" stroke-linejoin="round"/>
<path d="M300.0 183.8 L303.8 182.0 L307.0 183.0 L305.5 185.5 L301.2 186.0Z" fill="#feb24c" stroke="#feb24c" stroke-width="0.5" stroke-linejoin="round"/>
<path d="M236.2 225.6 L236.9 228.8 L236.2 233.8 L236.9 238.8 L239.4 241.2 L240.0 243.8 L237.5 245.0 L235.6 247.5 L234.4 251.2 L232.5 255.0 L231.9 258.8 L231.2 262.5 L230.6 264.6 L226.9 264.0 L223.1 263.4 L221.9 258.8 L219.4 253.8 L218.8 248.8 L219.4 243.8 L220.0 240.0 L221.9 236.2 L225.0 233.8 L228.8 231.2 L231.9 228.1 L234.4 225.6Z" fill="#fc4e2a" stroke="#fc4e2a" stroke-width="0.5" stroke-linejoin="round"/>
<path d="M232.5 255.6 L236.2 254.8 L239.4 256.9 L240.0 260.0 L238.1 263.1 L235.0 261.9 L233.1 259.4Z" fill="#fc4e2a" stroke="#fc4e2a" stroke-width="0.5" stroke-linejoin="round"/>
<path d="M243.1 251.9 L246.2 250.0 L249.4 248.1 L251.9 247.5 L253.8 250.0 L253.1 253.1 L251.2 255.0 L251.9 258.1 L250.6 261.2 L251.2 264.4 L249.4 266.9 L245.6 267.5 L243.1 266.2 L245.0 263.1 L246.9 260.0 L244.4 257.5 L242.5 255.0Z" fill="#fc4e2a" stroke="#fc4e2a" stroke-width="0.5" stroke-linejoin="round"/>
<path d="M270.6 258.1 L273.1 257.5 L275.0 259.4 L273.8 261.2 L271.2 260.6Z" fill="#fc4e2a" stroke="#fc4e2a" stroke-width="0.5" stroke-linejoin="round"/>
<path d="M340.1 209.0 L338.8 206.5 L336.9 205.8 L333.1 203.9 L331.2 200.1 L330.6 195.7 L331.3 193.8 L334.4 190.6 L338.8 188.1 L343.7 186.2 L349.9 186.2 L356.3 185.6 L361.2 184.4 L360.0 188.7 L359.3 193.8 L360.6 198.7 L361.9 203.7 L363.1 208.1 L364.8 210.9 L359.1 211.5 L354.6 212.2 L349.6 209.6 L344.5 208.4Z" fill="#fc4e2a" stroke="#fc4e2a" stroke-width="0.5" stroke-linejoin="round"/>
<path d="M321.1 207.7 L324.2 204.6 L329.3 202.7 L330.6 205.2 L328.0 207.7 L324.2 210.3 L322.3 210.9Z" fill="#fc4e2a" stroke="#fc4e2a" stroke-width="0.5" stroke-linejoin="round"/>
<path d="M323.0 199.5 L325.5 198.2 L327.4 200.1 L325.5 202.0 L323.2 201.4Z" fill="#fc4e2a" stroke="#fc4e2a" stroke-width="0.5" stroke-linejoin="round"/>
<path d="M319.8 238.8 L318.9 233.1 L319.8 228.0 L321.7 223.0 L324.9 219.8 L328.0 217.2 L330.6 218.5 L333.1 221.7 L336.3 223.6 L340.1 223.0 L341.3 219.2 L340.7 214.1 L340.1 209.0 L344.5 208.4 L349.6 209.6 L354.6 212.2 L359.1 211.5 L364.8 210.9 L366.7 214.7 L368.6 220.4 L373.0 225.5 L373.7 228.7 L370.5 232.5 L369.8 235.6 L366.0 237.5 L364.1 238.8 L361.0 237.5 L355.9 235.0 L350.8 233.7 L347.7 231.2 L344.5 232.5 L340.7 233.1 L334.4 233.7 L328.0 234.4 L323.0 236.3Z" fill="#ffffcc" stroke="#ffffcc" stroke-width="0.5" stroke-linejoin="round"/>
<path d="M319.8 238.8 L323.0 236.3 L328.0 234.4 L334.4 233.7 L340.7 233.1 L344.5 232.5 L347.7 231.2 L350.8 233.7 L355.9 235.0 L361.0 237.5 L364.1 238.8 L366.0 241.3 L364.1 244.5 L362.2 247.0 L360.3 249.6 L361.0 253.4 L359.1 257.2 L359.7 260.3 L355.9 262.2 L352.1 264.8 L349.6 266.0 L346.4 265.9 L343.2 264.1 L338.8 262.9 L336.9 260.3 L336.3 255.9 L334.4 253.4 L329.3 252.7 L324.9 251.5 L323.0 248.3 L321.1 243.2Z" fill="#fed976" stroke="#fed976" stroke-width="0.5" stroke-linejoin="round"/>
<path d="M270.0 276.2 L276.2 272.5 L285.0 267.5 L295.0 263.0 L303.8 262.0 L310.0 264.5 L315.3 267.3 L331.8 265.8 L338.8 262.9 L343.2 264.1 L346.4 265.9 L349.6 266.0 L347.0 270.0 L348.8 277.5 L350.0 285.0 L347.0 292.5 L351.2 298.8 L353.8 306.2 L356.2 313.8 L353.8 317.5 L350.0 325.0 L347.5 333.8 L342.5 332.0 L335.0 333.0 L327.5 333.8 L320.0 332.5 L313.8 335.0 L308.8 331.2 L302.5 327.5 L296.2 323.8 L292.5 326.2 L285.0 321.2 L277.5 318.8 L277.0 317.5 L276.2 310.0 L275.0 302.5 L272.5 295.0 L271.2 288.8 L268.8 282.5 L270.0 276.2Z" fill="#feb24c" stroke="#feb24c" stroke-width="0.5" stroke-linejoin="round"/>
<path d="M277.5 318.8 L285.0 321.2 L292.5 326.2 L296.2 323.8 L302.5 327.5 L308.8 331.2 L313.8 335.0 L310.0 338.8 L303.8 343.8 L297.5 347.5 L290.0 345.0 L282.5 346.2 L276.2 348.8 L270.0 346.2 L263.8 341.2 L258.8 336.2 L253.8 330.0 L260.0 325.0 L268.8 320.0 L277.5 318.8Z" fill="#fed976" stroke="#fed976" stroke-width="0.5" stroke-linejoin="round"/>
<path d="M297.5 347.5 L303.8 343.8 L310.0 338.8 L313.8 335.0 L320.0 332.5 L327.5 333.8 L335.0 333.0 L342.5 332.0 L347.5 333.8 L346.2 340.0 L343.8 345.0 L335.0 345.0 L327.5 348.8 L320.0 352.5 L312.5 356.2 L305.0 355.0 L300.0 352.5 L297.5 347.5Z" fill="#feb24c" stroke="#feb24c" stroke-width="0.5" stroke-linejoin="round"/>
<path d="M230.5 368.0 L233.8 368.8 L242.5 367.5 L250.0 365.0 L257.5 363.8 L262.5 360.0 L263.8 355.0 L270.0 352.5 L270.0 346.2 L276.2 348.8 L282.5 346.2 L290.0 345.0 L297.5 347.5 L300.0 352.5 L298.8 360.0 L296.2 365.0 L295.0 371.2 L292.5 376.2 L285.0 378.8 L277.5 380.0 L268.8 380.5 L267.5 377.5 L260.0 375.0 L250.0 373.8 L240.0 375.0 L231.2 376.2 L230.0 371.2 L230.5 368.0Z" fill="#800026" stroke="#800026" stroke-width="0.5" stroke-linejoin="round"/>
<path d="M300.0 352.5 L305.0 355.0 L312.5 356.2 L320.0 352.5 L327.5 348.8 L335.0 345.0 L343.8 345.0 L348.8 347.5 L353.8 350.0 L350.0 355.0 L346.2 361.2 L343.8 370.0 L340.0 376.2 L335.0 378.8 L327.5 380.5 L322.5 383.8 L315.0 386.2 L307.5 385.0 L300.0 381.2 L295.0 377.5 L295.0 371.2 L296.2 365.0 L298.8 360.0 L300.0 352.5Z" fill="#fed976" stroke="#fed976" stroke-width="0.5" stroke-linejoin="round"/>
<path d="M268.8 380.5 L277.5 380.0 L285.0 378.8 L292.5 376.2 L295.0 371.2 L295.0 377.5 L295.0 381.2 L290.0 385.0 L285.0 390.0 L280.0 393.8 L273.8 393.8 L271.2 394.5 L268.8 390.0 L267.5 385.0 L268.8 380.5Z" fill="#800026" stroke="#800026" stroke-width="0.5" stroke-linejoin="round"/>
<path d="M271.2 394.5 L273.8 393.8 L280.0 393.8 L285.0 390.0 L290.0 385.0 L295.0 381.2 L295.0 377.5 L300.0 381.2 L307.5 385.0 L315.0 386.2 L322.5 383.8 L321.9 387.5 L323.1 391.2 L326.2 393.1 L325.6 395.0 L323.8 398.1 L321.2 397.5 L316.2 396.9 L311.2 396.2 L305.0 396.9 L300.0 396.2 L295.6 398.1 L292.5 396.9 L290.6 399.4 L291.9 403.1 L295.0 407.5 L298.1 411.9 L301.2 415.6 L305.0 419.4 L308.8 423.8 L311.9 426.9 L316.2 429.4 L320.6 431.2 L320.0 432.5 L316.2 430.6 L311.9 428.1 L307.5 426.2 L303.1 424.4 L298.8 421.9 L295.0 419.4 L291.2 416.2 L287.5 412.5 L285.0 408.1 L282.5 403.8 L280.6 398.8 L277.5 397.5 L273.8 401.2 L270.0 397.5Z" fill="#fc4e2a" stroke="#fc4e2a" stroke-width="0.5" stroke-linejoin="round"/>
<path d="M335.0 378.8 L340.0 376.2 L343.8 370.0 L346.2 361.2 L350.0 355.0 L353.8 350.0 L353.8 348.1 L357.5 348.8 L362.5 348.1 L368.8 347.5 L373.1 350.0 L376.9 346.2 L383.1 343.8 L385.6 340.0 L387.5 338.8 L391.2 341.9 L395.0 346.2 L398.8 350.0 L402.5 353.1 L405.6 356.9 L407.5 361.2 L408.1 366.2 L409.4 370.6 L410.6 373.1 L413.8 375.0 L418.1 373.8 L421.9 371.9 L425.0 372.5 L425.6 376.2 L423.8 380.0 L421.2 385.0 L420.0 390.0 L419.4 394.9 L418.8 396.2 L415.0 396.2 L410.0 395.0 L403.8 394.4 L398.8 395.6 L394.4 398.8 L390.6 402.5 L385.0 403.8 L377.5 405.0 L370.0 406.2 L363.1 406.2 L361.2 403.8 L358.1 401.9 L358.8 399.4 L356.2 396.9 L351.2 397.5 L347.5 395.0 L346.2 391.2 L342.5 388.8 L338.8 384.4 L335.0 378.8Z" fill="#fed976" stroke="#fed976" stroke-width="0.5" stroke-linejoin="round"/>
<path d="M363.1 406.2 L370.0 406.2 L377.5 405.0 L385.0 403.8 L390.6 402.5 L394.4 398.8 L398.8 395.6 L403.8 394.4 L410.0 395.0 L415.0 396.2 L418.8 396.2 L416.2 403.8 L413.8 412.5 L415.0 420.0 L418.8 422.5 L410.0 425.0 L406.9 429.4 L403.1 430.0 L401.9 432.5 L399.4 435.6 L395.0 436.9 L390.0 436.9 L385.0 436.2 L380.0 436.9 L375.0 438.1 L370.0 440.0 L369.0 438.8 L368.8 435.0 L366.2 431.2 L362.5 428.8 L361.9 426.9 L361.2 423.1 L363.8 420.6 L365.0 417.5 L362.5 415.0 L360.0 412.5 L360.0 408.8Z" fill="#fed976" stroke="#fed976" stroke-width="0.5" stroke-linejoin="round"/>
<path d="M345.0 466.2 L346.9 462.5 L349.4 458.8 L350.6 455.0 L351.2 451.9 L355.6 449.4 L360.0 446.2 L364.4 444.4 L368.1 441.9 L370.0 440.0 L375.0 438.1 L380.0 436.9 L385.0 436.2 L390.0 436.9 L395.0 436.9 L399.4 435.6 L401.9 432.5 L403.1 430.0 L406.9 429.4 L407.5 433.8 L405.0 437.5 L403.8 441.2 L400.0 440.0 L396.2 440.6 L392.5 441.9 L388.8 441.2 L385.0 443.1 L382.5 445.0 L380.0 446.9 L379.4 450.0 L381.2 453.1 L383.1 455.6 L380.6 456.2 L378.1 454.4 L376.2 455.6 L378.1 458.1 L380.0 459.4 L377.5 460.0 L374.4 457.5 L371.9 455.0 L370.0 451.9 L368.1 453.8 L367.8 457.5 L369.4 461.2 L371.9 464.4 L374.4 466.9 L376.2 469.4 L373.8 470.6 L372.5 473.1 L375.0 474.4 L378.1 473.1 L381.2 475.0 L385.0 477.5 L388.8 480.0 L391.9 482.5 L392.5 484.4 L389.4 483.8 L386.9 485.0 L388.8 487.5 L387.5 488.8 L384.4 486.9 L381.2 485.0 L378.8 485.6 L378.8 488.8 L381.2 491.2 L382.5 494.4 L380.0 495.0 L377.5 493.8 L376.2 496.2 L375.2 500.0 L370.0 506.2 L366.2 502.5 L362.5 497.5 L358.8 492.5 L361.9 497.5 L359.4 494.4 L357.5 491.2 L358.1 488.1 L361.9 485.6 L366.2 485.0 L371.2 484.4 L373.8 483.1 L370.0 482.8 L365.0 483.5 L360.0 484.4 L356.9 483.1 L354.4 480.0 L352.5 476.9 L349.4 475.6 L346.2 473.1 L344.4 470.0Z" fill="#800026" stroke="#800026" stroke-width="0.5" stroke-linejoin="round"/>
<path d="M388.8 520.0 L395.0 518.0 L402.5 518.8 L410.0 518.8 L417.5 517.5 L418.8 520.0 L412.5 522.0 L405.0 522.5 L397.5 523.0 L391.2 522.5Z" fill="#800026" stroke="#800026" stroke-width="0.5" stroke-linejoin="round"/>
<path d="M378.1 473.1 L380.2 472.2 L383.8 474.0 L387.5 476.5 L391.0 479.0 L392.8 481.5 L390.0 480.6 L386.2 478.1 L382.5 476.0Z" fill="#800026" stroke="#800026" stroke-width="0.5" stroke-linejoin="round"/>
<path d="M405.6 463.8 L408.1 461.5 L411.2 462.2 L412.8 464.8 L410.6 466.2 L407.5 466.0Z" fill="#800026" stroke="#800026" stroke-width="0.5" stroke-linejoin="round"/>
<path d="M407.2 473.1 L409.4 472.5 L410.2 475.0 L409.4 477.5 L407.8 476.9Z" fill="#800026" stroke="#800026" stroke-width="0.5" stroke-linejoin="round"/>
<path d="M417.5 481.9 L420.6 481.5 L421.0 483.1 L418.1 483.5Z" fill="#800026" stroke="#800026" stroke-width="0.5" stroke-linejoin="round"/>
<path d="M338.1 468.1 L340.0 468.8 L341.9 471.2 L340.6 472.2 L338.8 470.2Z" fill="#800026" stroke="#800026" stroke-width="0.5" stroke-linejoin="round"/>
<path d="M348.8 486.9 L351.2 486.2 L352.2 488.1 L350.0 489.4Z" fill="#800026" stroke="#800026" stroke-width="0.5" stroke-linejoin="round"/>
<path d="M351.2 492.5 L353.1 492.2 L353.8 494.0 L351.9 494.4Z" fill="#800026" stroke="#800026" stroke-width="0.5" stroke-linejoin="round"/>
<path d="M349.0 480.6 L350.6 480.2 L351.0 482.5 L349.4 482.8Z" fill="#800026" stroke="#800026" stroke-width="0.5" stroke-linejoin="round"/>
<path d="M387.2 446.0 L389.0 445.8 L389.2 447.5 L387.5 447.8Z" fill="#800026" stroke="#800026" stroke-width="0.5" stroke-linejoin="round"/>
<path d="M397.9 447.2 L399.8 447.0 L400.0 448.8 L398.1 449.0Z" fill="#800026" stroke="#800026" stroke-width="0.5" stroke-linejoin="round"/>
<path d="M395.0 454.8 L397.5 454.5 L397.9 456.5 L395.4 456.8Z" fill="#800026" stroke="#800026" stroke-width="0.5" stroke-linejoin="round"/>
<path d="M391.0 471.0 L392.8 470.8 L393.0 472.8 L391.2 473.0Z" fill="#800026" stroke="#800026" stroke-width="0.5" stroke-linejoin="round"/>
<path d="M377.5 457.2 L379.0 457.0 L379.2 458.5 L377.8 458.8Z" fill="#800026" stroke="#800026" stroke-width="0.5" stroke-linejoin="round"/>
<path d="M381.2 456.0 L382.8 455.8 L383.0 457.2 L381.5 457.5Z" fill="#800026" stroke="#800026" stroke-width="0.5" stroke-linejoin="round"/>
<path d="M396.9 485.0 L398.5 484.8 L398.8 486.5 L397.1 486.8Z" fill="#800026" stroke="#800026" stroke-width="0.5" stroke-linejoin="round"/>
<path d="M400.0 488.8 L401.5 488.5 L401.8 490.2 L400.2 490.5Z" fill="#800026" stroke="#800026" stroke-width="0.5" stroke-linejoin="round"/>
<path d="M403.1 493.1 L404.8 492.9 L405.0 494.6 L403.4 494.9Z" fill="#800026" stroke="#800026" stroke-width="0.5" stroke-linejoin="round"/>
<path d="M406.2 496.9 L407.9 496.6 L408.1 498.4 L406.5 498.6Z" fill="#800026" stroke="#800026" stroke-width="0.5" stroke-linejoin="round"/>
<path d="M410.0 494.4 L411.6 494.1 L411.9 495.9 L410.2 496.1Z" fill="#800026" stroke="#800026" stroke-width="0.5" stroke-linejoin="round"/>
<path d="M411.2 485.0 L412.9 484.8 L413.1 486.5 L411.5 486.8Z" fill="#800026" stroke="#800026" stroke-width="0.5" stroke-linejoin="round"/>
<path d="M417.5 487.5 L419.0 487.2 L419.2 489.0 L417.8 489.2Z" fill="#800026" stroke="#800026" stroke-width="0.5" stroke-linejoin="round"/>
<path d="M422.5 493.1 L424.0 492.9 L424.2 494.6 L422.8 494.9Z" fill="#800026" stroke="#800026" stroke-width="0.5" stroke-linejoin="round"/>
<path d="M391.9 488.8 L393.5 488.5 L393.8 490.2 L392.1 490.5Z" fill="#800026" stroke="#800026" stroke-width="0.5" stroke-linejoin="round"/>
<path d="M395.6 493.8 L397.2 493.5 L397.5 495.2 L395.9 495.5Z" fill="#800026" stroke="#800026" stroke-width="0.5" stroke-linejoin="round"/>
<path d="M426.2 496.9 L427.8 496.6 L428.0 498.4 L426.5 498.6Z" fill="#800026" stroke="#800026" stroke-width="0.5" stroke-linejoin="round"/>
<path d="M392.5 490.0 L395.0 489.5 L395.5 492.0 L393.0 492.5Z" fill="#800026" stroke="#800026" stroke-width="0.5" stroke-linejoin="round"/>
<path d="M397.5 495.0 L400.0 494.5 L400.5 497.0 L398.0 497.5Z" fill="#800026" stroke="#800026" stroke-width="0.5" stroke-linejoin="round"/>
<path d="M401.2 498.8 L403.8 498.2 L404.2 500.8 L401.8 501.2Z" fill="#800026" stroke="#800026" stroke-width="0.5" stroke-linejoin="round"/>
<path d="M393.8 500.0 L396.2 499.5 L396.8 502.0 L394.2 502.5Z" fill="#800026" stroke="#800026" stroke-width="0.5" stroke-linejoin="round"/>
<path d="M405.0 492.5 L407.5 492.0 L408.0 494.5 L405.5 495.0Z" fill="#800026" stroke="#800026" stroke-width="0.5" stroke-linejoin="round"/>
<path d="M415.0 495.0 L418.0 494.5 L418.5 497.0 L415.5 497.5Z" fill="#800026" stroke="#800026" stroke-width="0.5" stroke-linejoin="round"/>
<path d="M410.0 502.5 L412.5 502.0 L413.0 504.5 L410.5 505.0Z" fill="#800026" stroke="#800026" stroke-width="0.5" stroke-linejoin="round"/>
<path d="M422.5 490.0 L425.5 488.8 L427.0 492.5 L424.5 497.5 L422.5 496.2Z" fill="#800026" stroke="#800026" stroke-width="0.5" stroke-linejoin="round"/>
<path d="M175.6 311.2 L180.0 307.5 L183.8 302.5 L186.2 297.5 L188.1 292.5 L190.0 288.8 L193.8 286.2 L198.8 285.0 L203.8 284.0 L208.8 284.0 L210.0 287.5 L208.8 291.2 L207.5 295.0 L205.6 296.9 L206.9 300.0 L205.0 302.5 L202.5 304.4 L200.0 306.2 L199.4 310.0 L198.8 313.8 L198.1 316.9 L196.9 318.1 L195.6 315.0 L192.5 313.1 L190.0 311.2 L186.9 310.2 L183.8 311.0 L180.6 312.5 L178.1 311.9Z" fill="#fc4e2a" stroke="#fc4e2a" stroke-width="0.5" stroke-linejoin="round"/>
<path d="M175.6 311.2 L168.8 314.4 L169.4 318.1 L172.5 319.4 L175.0 321.2 L178.1 323.8 L180.6 325.6 L181.9 329.4 L185.0 330.0 L187.5 331.2 L190.0 333.8 L193.1 336.2 L195.6 337.5 L196.5 334.4 L197.2 331.2 L199.4 328.8 L200.0 325.6 L198.8 323.1 L198.1 320.0 L196.9 318.1 L195.6 315.0 L192.5 313.1 L190.0 311.2 L186.9 310.2 L183.8 311.0 L180.6 312.5 L178.1 311.9Z" fill="#fed976" stroke="#fed976" stroke-width="0.5" stroke-linejoin="round"/>
<path d="M195.6 337.5 L196.5 334.4 L197.2 331.2 L199.4 332.5 L200.6 335.0 L200.0 337.5 L198.1 338.5Z" fill="#fc4e2a" stroke="#fc4e2a" stroke-width="0.5" stroke-linejoin="round"/>
<path d="M116.2 416.2 L119.5 407.5 L122.0 397.5 L123.8 395.0 L125.0 390.0 L126.9 386.2 L125.0 382.5 L125.6 378.8 L123.8 375.6 L120.6 373.1 L119.4 368.8 L117.5 365.0 L116.2 360.6 L113.1 357.5 L109.4 354.4 L105.6 351.2 L101.9 349.4 L98.8 347.5 L98.1 343.8 L98.8 340.0 L102.5 338.8 L106.2 338.8 L110.6 337.5 L114.4 339.4 L116.9 341.9 L121.2 341.9 L125.6 342.5 L127.2 340.6 L126.9 335.0 L126.9 330.0 L129.4 328.8 L131.9 330.0 L131.9 333.8 L134.4 335.0 L139.4 335.6 L143.8 335.0 L145.0 332.5 L148.8 330.6 L152.5 329.4 L156.2 327.5 L158.8 325.0 L162.5 317.5 L168.8 314.4 L169.4 318.1 L172.5 319.4 L175.0 321.2 L178.1 323.8 L180.6 325.6 L181.9 329.4 L185.0 330.0 L187.5 331.2 L190.0 333.8 L193.1 336.2 L195.6 337.5 L198.1 338.5 L200.0 337.5 L207.5 343.8 L215.0 347.0 L212.5 355.0 L210.0 365.0 L206.2 368.8 L200.0 375.0 L196.2 381.2 L200.0 383.8 L203.8 386.2 L202.5 393.8 L200.0 400.0 L203.8 406.2 L207.5 413.8 L206.2 417.5 L200.0 422.5 L197.5 426.2 L190.0 426.2 L182.5 422.5 L175.0 421.2 L167.5 423.8 L161.2 428.8 L160.0 433.8 L153.8 432.5 L146.2 430.5 L137.5 426.2 L130.0 422.5 L122.5 418.8 L116.2 416.2Z" fill="#fc4e2a" stroke="#fc4e2a" stroke-width="0.5" stroke-linejoin="round"/>
<path d="M219.4 439.4 L221.2 436.2 L224.4 434.4 L226.9 433.1 L227.8 431.2 L228.5 435.0 L228.8 440.0 L228.1 445.0 L226.9 448.8 L225.0 451.2 L222.5 450.0 L220.6 446.2 L219.8 442.5Z" fill="#fc4e2a" stroke="#fc4e2a" stroke-width="0.5" stroke-linejoin="round"/>
<path d="M210.0 365.0 L217.5 366.2 L217.5 365.0 L225.0 366.2 L230.5 368.0 L230.0 371.2 L231.2 376.2 L235.0 381.2 L227.5 383.8 L221.2 387.5 L215.0 385.0 L210.0 387.5 L212.5 390.0 L207.5 391.2 L203.8 386.2 L200.0 383.8 L196.2 381.2 L200.0 375.0 L206.2 368.8 L210.0 365.0Z" fill="#800026" stroke="#800026" stroke-width="0.5" stroke-linejoin="round"/>
<path d="M208.8 284.0 L209.4 281.9 L213.8 281.2 L218.1 281.9 L220.0 283.8 L222.5 279.4 L223.8 276.9 L224.4 272.5 L223.1 267.5 L223.1 263.4 L226.9 264.0 L230.6 264.6 L232.5 266.9 L233.8 270.0 L240.0 268.8 L245.0 271.2 L251.2 272.5 L257.5 270.0 L262.5 268.8 L266.2 272.5 L270.0 276.2 L268.8 282.5 L271.2 288.8 L272.5 295.0 L275.0 302.5 L276.2 310.0 L277.0 317.5 L277.5 318.8 L268.8 320.0 L260.0 325.0 L253.8 330.0 L258.8 336.2 L263.8 341.2 L270.0 346.2 L270.0 352.5 L263.8 355.0 L262.5 360.0 L257.5 363.8 L250.0 365.0 L242.5 367.5 L233.8 368.8 L230.5 368.0 L225.0 366.2 L217.5 365.0 L217.5 366.2 L210.0 365.0 L212.5 355.0 L215.0 347.0 L207.5 343.8 L200.0 337.5 L200.6 335.0 L199.4 332.5 L197.2 331.2 L199.4 328.8 L200.0 325.6 L198.8 323.1 L198.1 320.0 L196.9 318.1 L198.1 316.9 L198.8 313.8 L199.4 310.0 L200.0 306.2 L202.5 304.4 L205.0 302.5 L206.9 300.0 L205.6 296.9 L207.5 295.0 L208.8 291.2 L210.0 287.5Z" fill="#800026" stroke="#800026" stroke-width="0.5" stroke-linejoin="round"/>
<path d="M206.2 417.5 L207.5 413.8 L203.8 406.2 L200.0 400.0 L202.5 393.8 L203.8 386.2 L207.5 391.2 L212.5 390.0 L210.0 387.5 L215.0 385.0 L221.2 387.5 L227.5 383.8 L235.0 381.2 L231.2 376.2 L240.0 375.0 L250.0 373.8 L260.0 375.0 L267.5 377.5 L268.8 380.5 L267.5 385.0 L268.8 390.0 L271.2 394.5 L270.0 397.5 L266.2 395.0 L260.0 392.5 L256.2 397.5 L256.2 397.5 L257.5 405.0 L258.8 413.8 L263.8 417.5 L270.0 422.5 L273.8 430.0 L276.2 432.5 L279.4 435.6 L283.1 439.4 L286.9 441.9 L291.2 442.5 L295.6 442.5 L297.5 443.8 L295.0 446.9 L296.2 449.4 L300.0 451.2 L305.0 453.1 L309.4 455.0 L313.8 456.9 L318.1 459.4 L321.9 461.9 L324.0 465.0 L323.8 467.5 L321.2 468.1 L320.0 465.6 L317.5 463.1 L313.1 461.9 L308.8 461.9 L306.2 464.4 L304.4 468.1 L304.4 471.9 L306.2 473.8 L309.4 475.6 L311.5 478.1 L311.2 481.9 L308.1 483.8 L305.6 486.2 L305.6 488.8 L303.8 492.5 L301.2 495.6 L298.1 497.5 L296.2 495.6 L296.9 493.1 L298.1 490.0 L300.0 487.5 L301.9 485.0 L301.2 481.2 L298.8 476.9 L296.9 473.1 L295.0 469.4 L291.2 468.1 L287.5 466.2 L286.2 463.1 L283.1 460.0 L278.8 458.1 L274.4 455.0 L270.6 452.5 L266.9 453.1 L263.8 452.5 L258.8 449.4 L253.8 445.0 L248.8 440.0 L243.8 435.0 L240.0 431.2 L237.5 425.0 L232.5 417.5 L225.0 412.5 L217.5 411.2 L210.0 415.0Z" fill="#800026" stroke="#800026" stroke-width="0.5" stroke-linejoin="round"/>
<path d="M261.2 501.2 L262.5 498.1 L265.0 496.9 L267.5 498.1 L270.0 496.2 L273.8 498.1 L278.8 498.8 L283.8 498.1 L288.8 496.9 L292.5 495.0 L294.8 494.0 L293.8 497.5 L292.5 501.2 L291.9 505.0 L292.2 510.0 L293.1 515.0 L290.0 515.6 L285.0 513.1 L278.8 510.6 L272.5 508.1 L266.2 506.2 L262.5 504.4Z" fill="#800026" stroke="#800026" stroke-width="0.5" stroke-linejoin="round"/>
<path d="M214.4 460.6 L217.5 458.8 L221.2 456.9 L224.4 455.0 L227.5 455.6 L229.4 458.8 L230.6 462.5 L231.2 466.2 L230.0 470.0 L230.0 475.0 L229.4 480.0 L228.1 483.1 L225.0 482.5 L222.5 485.0 L219.4 486.2 L216.9 484.4 L216.2 480.0 L216.9 475.0 L216.2 470.0 L215.6 465.6 L214.4 462.5Z" fill="#800026" stroke="#800026" stroke-width="0.5" stroke-linejoin="round"/>
<path d="M53.8 398.8 L62.5 402.5 L75.0 405.0 L87.5 408.8 L100.0 412.5 L110.0 415.0 L116.2 416.2 L122.5 418.8 L130.0 422.5 L137.5 426.2 L146.2 430.5 L153.8 432.5 L160.0 433.8 L162.5 437.5 L157.5 442.5 L150.0 447.5 L142.5 451.2 L136.2 455.0 L130.0 461.2 L125.0 467.5 L122.5 475.0 L125.0 481.2 L120.0 486.2 L115.0 490.0 L112.5 496.2 L107.5 500.0 L100.0 503.8 L90.0 505.0 L80.0 503.8 L71.2 503.8 L65.0 506.2 L58.8 507.5 L53.8 502.5 L51.2 497.5 L48.8 491.2 L43.8 487.5 L37.5 486.2 L30.0 486.2 L23.8 485.0 L26.2 477.5 L28.8 470.0 L25.0 465.0 L23.8 460.0 L27.5 453.8 L31.2 446.2 L35.0 438.8 L37.5 431.2 L40.0 423.8 L41.2 416.2 L40.0 410.0 L39.5 403.8 L47.5 402.0Z" fill="#800026" stroke="#800026" stroke-width="0.5" stroke-linejoin="round"/>
<path d="M151.2 472.5 L156.2 470.0 L161.2 471.2 L160.0 475.0 L156.2 477.5 L152.5 475.5Z" fill="#800026" stroke="#800026" stroke-width="0.5" stroke-linejoin="round"/>
<path d="M167.0 468.8 L171.2 469.5 L170.0 471.2Z" fill="#800026" stroke="#800026" stroke-width="0.5" stroke-linejoin="round"/>
<path d="M137.5 480.0 L141.2 478.8 L142.0 482.5 L138.8 483.8Z" fill="#800026" stroke="#800026" stroke-width="0.5" stroke-linejoin="round"/>
<path d="M487.5 503.0 L490.0 499.5 L495.0 496.2 L500.5 494.5 L505.0 490.0 L509.2 486.5 L508.0 490.5 L506.2 495.0 L505.0 498.8 L501.2 501.2 L498.0 504.5 L493.8 507.0 L489.5 506.2Z" fill="#800026" stroke="#800026" stroke-width="0.5" stroke-linejoin="round"/>
<path d="M101.2 260.6 L99.4 258.8 L98.1 256.2 L95.0 255.0 L92.5 256.2 L90.0 255.0 L89.4 252.5 L91.2 250.0 L93.1 248.1 L95.0 246.2 L96.9 243.8 L97.5 242.5" fill="none" stroke="#1e1e1e" stroke-width="1.4" stroke-opacity="0.85" stroke-linejoin="round" stroke-linecap="round"/>
<path d="M288.8 61.2 L286.9 63.8 L286.2 67.5 L285.6 71.9 L281.2 71.2 L276.9 71.9 L276.2 75.0 L275.0 78.8 L270.6 78.8 L268.8 82.5 L268.1 86.2 L267.5 90.0 L266.2 93.8 L265.0 96.2 L265.0 101.2 L263.8 105.0 L260.6 106.9 L259.4 111.2 L260.0 116.2 L259.4 121.2 L257.5 125.0 L258.1 130.0 L256.9 133.8 L253.8 135.6 L250.6 137.5 L248.8 141.2 L247.5 146.2 L247.5 151.2 L248.1 156.2 L248.8 161.2 L248.8 166.2 L250.0 170.6 L251.9 173.8 L251.2 177.5 L249.4 180.0 L250.0 184.4 L250.6 188.8 L249.4 193.1 L248.1 196.9 L246.9 199.9 L246.9 198.8 L246.2 202.5 L245.0 207.5" fill="none" stroke="#1e1e1e" stroke-width="1.4" stroke-opacity="0.85" stroke-linejoin="round" stroke-linecap="round"/>
<path d="M328.8 53.1 L327.5 49.4 L326.2 46.2 L323.1 43.8 L320.0 41.9 L318.1 42.5 L315.0 45.0 L312.5 48.1 L311.9 52.5 L312.2 56.9 L311.2 61.2 L309.4 63.8 L305.0 63.1 L301.9 65.0 L298.8 65.6 L295.6 64.4 L293.1 61.9 L290.6 60.0 L288.8 61.2" fill="none" stroke="#1e1e1e" stroke-width="1.4" stroke-opacity="0.85" stroke-linejoin="round" stroke-linecap="round"/>
<path d="M288.8 61.2 L291.9 64.4 L295.0 66.9 L298.8 69.4 L302.5 71.9 L305.0 75.0 L306.2 80.0 L306.9 84.4 L308.8 88.1 L310.6 91.9 L311.9 95.6 L312.5 99.9 L315.0 103.1" fill="none" stroke="#1e1e1e" stroke-width="1.4" stroke-opacity="0.85" stroke-linejoin="round" stroke-linecap="round"/>
<path d="M328.8 53.1 L328.1 57.5 L329.4 61.2 L331.9 63.8 L335.0 66.2 L338.1 69.4 L339.4 73.1 L338.8 77.5 L338.1 81.9 L340.0 85.6 L342.5 88.8 L345.0 92.5 L346.9 96.2 L348.1 99.9 L350.0 105.0 L355.0 115.0 L360.0 122.5 L366.2 128.8 L368.8 135.0 L366.2 145.0 L362.5 155.0 L357.5 165.0" fill="none" stroke="#1e1e1e" stroke-width="1.4" stroke-opacity="0.85" stroke-linejoin="round" stroke-linecap="round"/>
<path d="M333.8 45.0 L331.2 46.9 L329.4 49.4 L328.8 53.1" fill="none" stroke="#1e1e1e" stroke-width="1.4" stroke-opacity="0.85" stroke-linejoin="round" stroke-linecap="round"/>
<path d="M340.1 209.0 L344.5 208.4 L349.6 209.6 L354.6 212.2 L359.1 211.5 L364.8 210.9" fill="none" stroke="#1e1e1e" stroke-width="1.4" stroke-opacity="0.85" stroke-linejoin="round" stroke-linecap="round"/>
<path d="M319.8 238.8 L323.0 236.3 L328.0 234.4 L334.4 233.7 L340.7 233.1 L344.5 232.5 L347.7 231.2 L350.8 233.7 L355.9 235.0 L361.0 237.5 L364.1 238.8" fill="none" stroke="#1e1e1e" stroke-width="1.4" stroke-opacity="0.85" stroke-linejoin="round" stroke-linecap="round"/>
<path d="M361.2 184.4 L360.0 188.7 L359.3 193.8 L360.6 198.7 L361.9 203.7 L363.1 208.1 L364.8 210.9" fill="none" stroke="#1e1e1e" stroke-width="1.4" stroke-opacity="0.85" stroke-linejoin="round" stroke-linecap="round"/>
<path d="M364.8 210.9 L366.7 214.7 L368.6 220.4 L373.0 225.5 L373.7 228.7 L370.5 232.5 L369.8 235.6 L366.0 237.5 L364.1 238.8" fill="none" stroke="#1e1e1e" stroke-width="1.4" stroke-opacity="0.85" stroke-linejoin="round" stroke-linecap="round"/>
<path d="M364.1 238.8 L366.0 241.3 L364.1 244.5 L362.2 247.0 L360.3 249.6 L361.0 253.4 L359.1 257.2 L359.7 260.3 L355.9 262.2 L352.1 264.8 L349.6 266.0" fill="none" stroke="#1e1e1e" stroke-width="1.4" stroke-opacity="0.85" stroke-linejoin="round" stroke-linecap="round"/>
<path d="M349.6 266.0 L346.4 265.9 L343.2 264.1 L338.8 262.9" fill="none" stroke="#1e1e1e" stroke-width="1.4" stroke-opacity="0.85" stroke-linejoin="round" stroke-linecap="round"/>
<path d="M338.8 262.9 L336.9 260.3 L336.3 255.9 L334.4 253.4 L329.3 252.7 L324.9 251.5" fill="none" stroke="#1e1e1e" stroke-width="1.4" stroke-opacity="0.85" stroke-linejoin="round" stroke-linecap="round"/>
<path d="M338.8 262.9 L331.8 265.8 L315.3 267.3" fill="none" stroke="#3a3a3a" stroke-width="1.35" stroke-opacity="0.85" stroke-linejoin="round" stroke-linecap="round"/>
<path d="M270.0 276.2 L268.8 282.5 L271.2 288.8 L272.5 295.0 L275.0 302.5 L276.2 310.0 L277.0 317.5 L277.5 318.8" fill="none" stroke="#1e1e1e" stroke-width="1.4" stroke-opacity="0.85" stroke-linejoin="round" stroke-linecap="round"/>
<path d="M277.5 318.8 L285.0 321.2 L292.5 326.2 L296.2 323.8 L302.5 327.5 L308.8 331.2 L313.8 335.0" fill="none" stroke="#1e1e1e" stroke-width="1.4" stroke-opacity="0.85" stroke-linejoin="round" stroke-linecap="round"/>
<path d="M313.8 335.0 L320.0 332.5 L327.5 333.8 L335.0 333.0 L342.5 332.0 L347.5 333.8" fill="none" stroke="#1e1e1e" stroke-width="1.4" stroke-opacity="0.85" stroke-linejoin="round" stroke-linecap="round"/>
<path d="M349.6 266.0 L347.0 270.0 L348.8 277.5 L350.0 285.0 L347.0 292.5 L351.2 298.8 L353.8 306.2 L356.2 313.8 L353.8 317.5 L350.0 325.0 L347.5 333.8" fill="none" stroke="#1e1e1e" stroke-width="1.4" stroke-opacity="0.85" stroke-linejoin="round" stroke-linecap="round"/>
<path d="M277.5 318.8 L268.8 320.0 L260.0 325.0 L253.8 330.0 L258.8 336.2 L263.8 341.2 L270.0 346.2" fill="none" stroke="#1e1e1e" stroke-width="1.4" stroke-opacity="0.85" stroke-linejoin="round" stroke-linecap="round"/>
<path d="M270.0 346.2 L276.2 348.8 L282.5 346.2 L290.0 345.0 L297.5 347.5" fill="none" stroke="#1e1e1e" stroke-width="1.4" stroke-opacity="0.85" stroke-linejoin="round" stroke-linecap="round"/>
<path d="M297.5 347.5 L303.8 343.8 L310.0 338.8 L313.8 335.0" fill="none" stroke="#1e1e1e" stroke-width="1.4" stroke-opacity="0.85" stroke-linejoin="round" stroke-linecap="round"/>
<path d="M300.0 352.5 L305.0 355.0 L312.5 356.2 L320.0 352.5 L327.5 348.8 L335.0 345.0 L343.8 345.0" fill="none" stroke="#1e1e1e" stroke-width="1.4" stroke-opacity="0.85" stroke-linejoin="round" stroke-linecap="round"/>
<path d="M343.8 345.0 L346.2 340.0 L347.5 333.8" fill="none" stroke="#1e1e1e" stroke-width="1.4" stroke-opacity="0.85" stroke-linejoin="round" stroke-linecap="round"/>
<path d="M300.0 352.5 L298.8 360.0 L296.2 365.0 L295.0 371.2" fill="none" stroke="#1e1e1e" stroke-width="1.4" stroke-opacity="0.85" stroke-linejoin="round" stroke-linecap="round"/>
<path d="M295.0 371.2 L292.5 376.2 L285.0 378.8 L277.5 380.0 L268.8 380.5" fill="none" stroke="#1e1e1e" stroke-width="1.4" stroke-opacity="0.85" stroke-linejoin="round" stroke-linecap="round"/>
<path d="M268.8 380.5 L267.5 377.5 L260.0 375.0 L250.0 373.8 L240.0 375.0 L231.2 376.2" fill="none" stroke="#1e1e1e" stroke-width="1.4" stroke-opacity="0.85" stroke-linejoin="round" stroke-linecap="round"/>
<path d="M231.2 376.2 L230.0 371.2 L230.5 368.0" fill="none" stroke="#1e1e1e" stroke-width="1.4" stroke-opacity="0.85" stroke-linejoin="round" stroke-linecap="round"/>
<path d="M230.5 368.0 L233.8 368.8 L242.5 367.5 L250.0 365.0 L257.5 363.8 L262.5 360.0 L263.8 355.0 L270.0 352.5 L270.0 346.2" fill="none" stroke="#1e1e1e" stroke-width="1.4" stroke-opacity="0.85" stroke-linejoin="round" stroke-linecap="round"/>
<path d="M295.0 377.5 L300.0 381.2 L307.5 385.0 L315.0 386.2 L322.5 383.8" fill="none" stroke="#1e1e1e" stroke-width="1.4" stroke-opacity="0.85" stroke-linejoin="round" stroke-linecap="round"/>
<path d="M322.5 383.8 L327.5 380.5 L335.0 378.8" fill="none" stroke="#1e1e1e" stroke-width="1.4" stroke-opacity="0.85" stroke-linejoin="round" stroke-linecap="round"/>
<path d="M335.0 378.8 L340.0 376.2 L343.8 370.0 L346.2 361.2 L350.0 355.0 L353.8 350.0" fill="none" stroke="#1e1e1e" stroke-width="1.4" stroke-opacity="0.85" stroke-linejoin="round" stroke-linecap="round"/>
<path d="M353.8 350.0 L348.8 347.5 L343.8 345.0" fill="none" stroke="#1e1e1e" stroke-width="1.4" stroke-opacity="0.85" stroke-linejoin="round" stroke-linecap="round"/>
<path d="M295.0 371.2 L295.0 377.5" fill="none" stroke="#1e1e1e" stroke-width="1.4" stroke-opacity="0.85" stroke-linejoin="round" stroke-linecap="round"/>
<path d="M295.0 377.5 L295.0 381.2 L290.0 385.0 L285.0 390.0 L280.0 393.8 L273.8 393.8 L271.2 394.5" fill="none" stroke="#1e1e1e" stroke-width="1.4" stroke-opacity="0.85" stroke-linejoin="round" stroke-linecap="round"/>
<path d="M271.2 394.5 L268.8 390.0 L267.5 385.0 L268.8 380.5" fill="none" stroke="#1e1e1e" stroke-width="1.4" stroke-opacity="0.85" stroke-linejoin="round" stroke-linecap="round"/>
<path d="M323.8 398.1 L321.2 397.5 L316.2 396.9 L311.2 396.2 L305.0 396.9 L300.0 396.2 L295.6 398.1 L292.5 396.9 L290.6 399.4 L291.9 403.1 L295.0 407.5 L298.1 411.9 L301.2 415.6 L305.0 419.4 L308.8 423.8 L311.9 426.9 L316.2 429.4 L320.6 431.2" fill="none" stroke="#1e1e1e" stroke-width="1.4" stroke-opacity="0.85" stroke-linejoin="round" stroke-linecap="round"/>
<path d="M322.5 383.8 L321.9 387.5 L323.1 391.2 L326.2 393.1 L325.6 395.0 L323.8 398.1" fill="none" stroke="#1e1e1e" stroke-width="1.4" stroke-opacity="0.85" stroke-linejoin="round" stroke-linecap="round"/>
<path d="M323.8 398.1 L325.0 401.9 L327.5 406.2 L329.4 409.4 L327.5 411.9 L328.8 414.4 L328.1 416.9 L325.6 417.5 L324.4 420.0" fill="none" stroke="#3a3a3a" stroke-width="1.35" stroke-opacity="0.85" stroke-linejoin="round" stroke-linecap="round"/>
<path d="M324.4 420.0 L322.5 423.1 L321.2 426.9 L320.6 431.2" fill="none" stroke="#3a3a3a" stroke-width="1.35" stroke-opacity="0.85" stroke-linejoin="round" stroke-linecap="round"/>
<path d="M324.4 420.0 L326.9 418.1 L330.0 419.4 L333.8 421.9 L338.8 424.4" fill="none" stroke="#3a3a3a" stroke-width="1.35" stroke-opacity="0.85" stroke-linejoin="round" stroke-linecap="round"/>
<path d="M362.5 428.8 L357.5 429.4 L353.1 430.6 L349.4 432.5" fill="none" stroke="#3a3a3a" stroke-width="1.35" stroke-opacity="0.85" stroke-linejoin="round" stroke-linecap="round"/>
<path d="M339.4 428.8 L336.9 430.0 L334.4 428.8 L332.5 430.6 L331.2 433.8 L330.6 438.8" fill="none" stroke="#3a3a3a" stroke-width="1.35" stroke-opacity="0.85" stroke-linejoin="round" stroke-linecap="round"/>
<path d="M343.8 435.0 L343.1 438.8 L343.8 443.1 L345.0 446.9 L351.2 451.9" fill="none" stroke="#3a3a3a" stroke-width="1.35" stroke-opacity="0.85" stroke-linejoin="round" stroke-linecap="round"/>
<path d="M339.4 428.8 L342.5 431.2 L343.8 435.0" fill="none" stroke="#3a3a3a" stroke-width="1.35" stroke-opacity="0.85" stroke-linejoin="round" stroke-linecap="round"/>
<path d="M338.8 424.4 L342.5 419.4 L346.2 420.0 L350.6 423.1 L355.0 425.0 L353.1 428.8 L349.4 432.5 L345.6 433.8 L343.8 435.0" fill="none" stroke="#3a3a3a" stroke-width="1.35" stroke-opacity="0.85" stroke-linejoin="round" stroke-linecap="round"/>
<path d="M335.0 378.8 L338.8 384.4 L342.5 388.8 L346.2 391.2 L347.5 395.0 L351.2 397.5 L356.2 396.9 L358.8 399.4 L358.1 401.9 L361.2 403.8 L363.1 406.2" fill="none" stroke="#1e1e1e" stroke-width="1.4" stroke-opacity="0.85" stroke-linejoin="round" stroke-linecap="round"/>
<path d="M363.1 406.2 L370.0 406.2 L377.5 405.0 L385.0 403.8 L390.6 402.5 L394.4 398.8 L398.8 395.6 L403.8 394.4 L410.0 395.0 L415.0 396.2 L418.8 396.2" fill="none" stroke="#1e1e1e" stroke-width="1.4" stroke-opacity="0.85" stroke-linejoin="round" stroke-linecap="round"/>
<path d="M387.5 338.8 L391.2 341.9 L395.0 346.2 L398.8 350.0 L402.5 353.1 L405.6 356.9 L407.5 361.2 L408.1 366.2 L409.4 370.6 L410.6 373.1" fill="none" stroke="#1e1e1e" stroke-width="1.4" stroke-opacity="0.85" stroke-linejoin="round" stroke-linecap="round"/>
<path d="M353.8 350.0 L353.8 348.1 L357.5 348.8 L362.5 348.1 L368.8 347.5 L373.1 350.0 L376.9 346.2 L383.1 343.8 L385.6 340.0 L387.5 338.8" fill="none" stroke="#1e1e1e" stroke-width="1.4" stroke-opacity="0.85" stroke-linejoin="round" stroke-linecap="round"/>
<path d="M410.6 373.1 L413.8 375.0 L418.1 373.8 L421.9 371.9 L425.0 372.5" fill="none" stroke="#1e1e1e" stroke-width="1.4" stroke-opacity="0.85" stroke-linejoin="round" stroke-linecap="round"/>
<path d="M363.1 406.2 L360.0 408.8 L360.0 412.5 L362.5 415.0 L365.0 417.5 L363.8 420.6 L361.2 423.1 L361.9 426.9 L362.5 428.8" fill="none" stroke="#1e1e1e" stroke-width="1.4" stroke-opacity="0.85" stroke-linejoin="round" stroke-linecap="round"/>
<path d="M362.5 428.8 L366.2 431.2 L368.8 435.0 L369.0 438.8 L370.0 440.0" fill="none" stroke="#1e1e1e" stroke-width="1.4" stroke-opacity="0.85" stroke-linejoin="round" stroke-linecap="round"/>
<path d="M406.9 429.4 L403.1 430.0 L401.9 432.5 L399.4 435.6 L395.0 436.9 L390.0 436.9 L385.0 436.2 L380.0 436.9 L375.0 438.1 L370.0 440.0" fill="none" stroke="#1e1e1e" stroke-width="1.4" stroke-opacity="0.85" stroke-linejoin="round" stroke-linecap="round"/>
<path d="M406.9 429.4 L410.0 425.0 L418.8 422.5" fill="none" stroke="#1e1e1e" stroke-width="1.4" stroke-opacity="0.85" stroke-linejoin="round" stroke-linecap="round"/>
<path d="M387.5 338.8 L391.2 335.6 L395.6 334.4 L400.0 335.6 L405.0 336.2 L410.0 337.5 L412.5 341.2 L415.0 344.4 L418.1 348.1 L421.2 351.9 L423.8 356.2 L420.0 356.9 L416.2 357.5 L415.0 361.2 L413.8 365.6 L412.5 370.0 L410.6 373.1" fill="none" stroke="#3a3a3a" stroke-width="1.35" stroke-opacity="0.85" stroke-linejoin="round" stroke-linecap="round"/>
<path d="M345.0 466.2 L346.9 462.5 L349.4 458.8 L350.6 455.0 L351.2 451.9" fill="none" stroke="#1e1e1e" stroke-width="1.4" stroke-opacity="0.85" stroke-linejoin="round" stroke-linecap="round"/>
<path d="M351.2 451.9 L355.6 449.4 L360.0 446.2 L364.4 444.4 L368.1 441.9 L370.0 440.0" fill="none" stroke="#1e1e1e" stroke-width="1.4" stroke-opacity="0.85" stroke-linejoin="round" stroke-linecap="round"/>
<path d="M406.9 429.4 L407.5 433.8 L405.0 437.5 L403.8 441.2" fill="none" stroke="#1e1e1e" stroke-width="1.4" stroke-opacity="0.85" stroke-linejoin="round" stroke-linecap="round"/>
<path d="M208.8 284.0 L210.0 287.5 L208.8 291.2 L207.5 295.0 L205.6 296.9 L206.9 300.0 L205.0 302.5 L202.5 304.4 L200.0 306.2 L199.4 310.0 L198.8 313.8 L198.1 316.9 L196.9 318.1" fill="none" stroke="#1e1e1e" stroke-width="1.4" stroke-opacity="0.85" stroke-linejoin="round" stroke-linecap="round"/>
<path d="M196.9 318.1 L195.6 315.0 L192.5 313.1 L190.0 311.2 L186.9 310.2 L183.8 311.0 L180.6 312.5 L178.1 311.9 L175.6 311.2" fill="none" stroke="#1e1e1e" stroke-width="1.4" stroke-opacity="0.85" stroke-linejoin="round" stroke-linecap="round"/>
<path d="M168.8 314.4 L169.4 318.1 L172.5 319.4 L175.0 321.2 L178.1 323.8 L180.6 325.6 L181.9 329.4 L185.0 330.0 L187.5 331.2 L190.0 333.8 L193.1 336.2 L195.6 337.5" fill="none" stroke="#1e1e1e" stroke-width="1.4" stroke-opacity="0.85" stroke-linejoin="round" stroke-linecap="round"/>
<path d="M195.6 337.5 L196.5 334.4 L197.2 331.2" fill="none" stroke="#1e1e1e" stroke-width="1.4" stroke-opacity="0.85" stroke-linejoin="round" stroke-linecap="round"/>
<path d="M197.2 331.2 L199.4 328.8 L200.0 325.6 L198.8 323.1 L198.1 320.0 L196.9 318.1" fill="none" stroke="#1e1e1e" stroke-width="1.4" stroke-opacity="0.85" stroke-linejoin="round" stroke-linecap="round"/>
<path d="M195.6 337.5 L198.1 338.5 L200.0 337.5" fill="none" stroke="#1e1e1e" stroke-width="1.4" stroke-opacity="0.85" stroke-linejoin="round" stroke-linecap="round"/>
<path d="M200.0 337.5 L200.6 335.0 L199.4 332.5 L197.2 331.2" fill="none" stroke="#1e1e1e" stroke-width="1.4" stroke-opacity="0.85" stroke-linejoin="round" stroke-linecap="round"/>
<path d="M223.1 263.4 L226.9 264.0 L230.6 264.6" fill="none" stroke="#1e1e1e" stroke-width="1.4" stroke-opacity="0.85" stroke-linejoin="round" stroke-linecap="round"/>
<path d="M200.0 337.5 L207.5 343.8 L215.0 347.0 L212.5 355.0 L210.0 365.0" fill="none" stroke="#1e1e1e" stroke-width="1.4" stroke-opacity="0.85" stroke-linejoin="round" stroke-linecap="round"/>
<path d="M210.0 365.0 L206.2 368.8 L200.0 375.0 L196.2 381.2 L200.0 383.8 L203.8 386.2" fill="none" stroke="#1e1e1e" stroke-width="1.4" stroke-opacity="0.85" stroke-linejoin="round" stroke-linecap="round"/>
<path d="M203.8 386.2 L202.5 393.8 L200.0 400.0 L203.8 406.2 L207.5 413.8 L206.2 417.5" fill="none" stroke="#1e1e1e" stroke-width="1.4" stroke-opacity="0.85" stroke-linejoin="round" stroke-linecap="round"/>
<path d="M160.0 433.8 L153.8 432.5 L146.2 430.5 L137.5 426.2 L130.0 422.5 L122.5 418.8 L116.2 416.2" fill="none" stroke="#1e1e1e" stroke-width="1.4" stroke-opacity="0.85" stroke-linejoin="round" stroke-linecap="round"/>
<path d="M210.0 365.0 L217.5 366.2 L217.5 365.0 L225.0 366.2 L230.5 368.0" fill="none" stroke="#1e1e1e" stroke-width="1.4" stroke-opacity="0.85" stroke-linejoin="round" stroke-linecap="round"/>
<path d="M231.2 376.2 L235.0 381.2 L227.5 383.8 L221.2 387.5 L215.0 385.0 L210.0 387.5 L212.5 390.0 L207.5 391.2 L203.8 386.2" fill="none" stroke="#1e1e1e" stroke-width="1.4" stroke-opacity="0.85" stroke-linejoin="round" stroke-linecap="round"/>
<path d="M41.2 419.5 L46.2 420.0 L48.8 423.8 L53.8 425.0 L61.2 427.5 L62.5 431.2 L58.8 436.2 L56.2 442.5 L53.8 450.0 L51.2 456.2 L46.2 458.8 L47.5 465.0 L48.8 471.2 L46.2 476.2 L42.5 481.2 L40.0 486.2" fill="none" stroke="#1e1e1e" stroke-width="1.4" stroke-opacity="0.85" stroke-linejoin="round" stroke-linecap="round"/>
<path d="M86.2 525.0 L92.5 528.8 L97.5 534.5" fill="none" stroke="#3a3a3a" stroke-width="1.35" stroke-opacity="0.85" stroke-linejoin="round" stroke-linecap="round"/>
<path d="M215.5 513.8 L213.8 522.5 L214.5 534.5" fill="none" stroke="#3a3a3a" stroke-width="1.35" stroke-opacity="0.85" stroke-linejoin="round" stroke-linecap="round"/>
<path d="M634.2 97.5 L631.2 105.0 L627.5 112.5 L623.8 120.0 L620.0 125.0 L615.0 131.2 L616.2 135.0 L620.0 136.2 L623.8 140.0 L622.5 145.0 L625.0 150.0 L627.5 155.0 L628.8 160.0 L634.2 161.2" fill="none" stroke="#3a3a3a" stroke-width="1.35" stroke-opacity="0.85" stroke-linejoin="round" stroke-linecap="round"/>
<path d="M634.2 178.8 L627.5 180.5 L621.2 181.2 L617.5 187.5 L612.5 192.5 L610.0 200.0 L603.8 202.5 L600.0 205.0 L595.0 201.2 L587.5 202.0 L580.0 203.8 L573.8 207.5 L567.5 211.2 L565.0 217.5 L562.5 225.0 L558.8 231.2 L557.5 236.2 L562.5 238.8 L560.0 243.8 L552.5 242.5 L550.5 247.5 L551.2 255.0 L555.0 262.5 L557.5 268.8 L565.0 272.5 L572.5 273.8 L580.0 275.0 L585.0 280.0 L587.5 283.8 L592.5 285.0" fill="none" stroke="#3a3a3a" stroke-width="1.35" stroke-opacity="0.85" stroke-linejoin="round" stroke-linecap="round"/>
<path d="M420.0 272.5 L425.0 268.8 L431.2 266.2 L436.2 268.8 L440.0 275.0 L445.0 278.8 L450.0 278.8 L457.5 286.2 L465.0 283.8 L471.2 282.5 L477.5 283.8 L487.5 282.5 L495.0 283.0 L500.0 286.2 L499.5 292.5 L501.2 297.5 L503.8 302.5 L503.8 307.5 L500.0 312.5 L495.0 317.5 L493.8 317.5 L495.0 321.2" fill="none" stroke="#3a3a3a" stroke-width="1.35" stroke-opacity="0.85" stroke-linejoin="round" stroke-linecap="round"/>
<path d="M372.5 228.8 L380.0 230.0 L385.0 228.0 L393.8 228.8 L397.5 235.0 L402.5 241.2 L407.5 247.5 L415.0 251.2 L418.8 256.2 L416.2 261.2 L411.2 263.8 L413.8 268.8 L416.2 273.8 L422.5 271.2 L427.5 267.5 L420.0 272.5" fill="none" stroke="#3a3a3a" stroke-width="1.35" stroke-opacity="0.85" stroke-linejoin="round" stroke-linecap="round"/>
<path d="M351.2 298.8 L355.0 293.8 L362.5 291.2 L372.5 290.0 L382.5 291.2 L390.0 289.5 L400.0 287.5 L410.0 286.2 L411.2 281.2 L416.2 273.8" fill="none" stroke="#3a3a3a" stroke-width="1.35" stroke-opacity="0.85" stroke-linejoin="round" stroke-linecap="round"/>
<path d="M347.5 333.8 L350.0 325.0 L353.8 317.5" fill="none" stroke="#3a3a3a" stroke-width="1.35" stroke-opacity="0.85" stroke-linejoin="round" stroke-linecap="round"/>
<path d="M530.0 362.5 L531.2 360.0 L540.0 358.8 L550.0 356.2 L558.8 355.0 L567.5 357.5 L575.0 352.5 L582.5 351.2 L590.0 353.8 L600.0 355.0 L607.5 356.2 L613.8 355.0 L616.2 345.0" fill="none" stroke="#3a3a3a" stroke-width="1.35" stroke-opacity="0.85" stroke-linejoin="round" stroke-linecap="round"/>
<path d="M553.8 381.2 L560.0 377.5 L566.2 375.5 L572.5 377.5 L577.5 377.5 L582.5 373.8 L588.8 368.8 L595.0 365.0 L602.5 362.5 L600.0 358.8 L597.5 355.0" fill="none" stroke="#3a3a3a" stroke-width="1.35" stroke-opacity="0.85" stroke-linejoin="round" stroke-linecap="round"/>
<path d="M577.5 377.5 L580.0 385.0 L583.8 390.0 L591.2 390.0 L596.2 388.8 L603.8 387.5 L610.0 390.0 L615.0 392.5 L612.5 395.0 L605.0 396.2 L598.8 393.8 L592.5 391.2" fill="none" stroke="#3a3a3a" stroke-width="1.35" stroke-opacity="0.85" stroke-linejoin="round" stroke-linecap="round"/>
<path d="M588.8 368.8 L592.5 373.8 L598.8 377.5 L603.8 382.5 L610.0 386.2 L615.0 392.5" fill="none" stroke="#3a3a3a" stroke-width="1.35" stroke-opacity="0.85" stroke-linejoin="round" stroke-linecap="round"/>
<path d="M615.0 392.5 L618.8 385.0 L622.5 378.8 L626.2 375.0 L630.0 377.5 L631.2 383.8 L634.2 385.0" fill="none" stroke="#3a3a3a" stroke-width="1.35" stroke-opacity="0.85" stroke-linejoin="round" stroke-linecap="round"/>
<path d="M592.5 391.2 L592.5 397.5 L595.0 405.0 L598.8 411.2 L602.5 417.5 L607.5 422.5" fill="none" stroke="#3a3a3a" stroke-width="1.35" stroke-opacity="0.85" stroke-linejoin="round" stroke-linecap="round"/>
<path d="M607.5 422.5 L613.8 427.5 L620.0 432.5 L627.5 435.0 L631.2 437.5 L632.5 445.0 L631.2 452.5 L633.8 460.0 L633.8 461.2" fill="none" stroke="#3a3a3a" stroke-width="1.35" stroke-opacity="0.85" stroke-linejoin="round" stroke-linecap="round"/>
<path d="M523.0 477.5 L527.5 475.0 L526.2 465.0 L531.2 462.5 L540.0 457.5 L545.0 455.5 L552.5 456.2 L560.0 452.5 L567.5 446.2 L575.0 440.0 L582.5 435.0 L585.0 433.8 L592.5 428.8 L600.0 426.2 L606.2 423.8 L607.5 422.5" fill="none" stroke="#3a3a3a" stroke-width="1.35" stroke-opacity="0.85" stroke-linejoin="round" stroke-linecap="round"/>
<path d="M585.0 433.8 L582.5 442.5 L578.8 450.0 L580.0 457.5 L583.8 465.0 L585.0 472.5 L583.8 480.0 L577.5 488.8 L570.0 497.5 L565.0 501.2" fill="none" stroke="#3a3a3a" stroke-width="1.35" stroke-opacity="0.85" stroke-linejoin="round" stroke-linecap="round"/>
<path d="M565.0 501.2 L555.0 507.5 L545.0 515.0 L536.2 521.2 L531.2 520.0" fill="none" stroke="#3a3a3a" stroke-width="1.35" stroke-opacity="0.85" stroke-linejoin="round" stroke-linecap="round"/>
<path d="M565.0 501.2 L570.0 507.5 L575.0 513.8 L565.0 522.5 L556.2 530.0 L553.8 534.5" fill="none" stroke="#3a3a3a" stroke-width="1.35" stroke-opacity="0.85" stroke-linejoin="round" stroke-linecap="round"/>
<path d="M575.0 513.8 L590.0 511.2 L605.0 513.8 L620.0 517.5 L634.2 521.2" fill="none" stroke="#3a3a3a" stroke-width="1.35" stroke-opacity="0.85" stroke-linejoin="round" stroke-linecap="round"/>
<path d="M527.0 505.0 L530.0 497.5 L535.0 494.5 L537.0 500.0 L533.8 507.5 L532.5 515.0 L530.0 518.8 L526.2 517.5" fill="none" stroke="#3a3a3a" stroke-width="1.35" stroke-opacity="0.85" stroke-linejoin="round" stroke-linecap="round"/>
<path d="M530.0 518.8 L531.2 520.0 L532.5 525.0 L533.8 534.5" fill="none" stroke="#3a3a3a" stroke-width="1.35" stroke-opacity="0.85" stroke-linejoin="round" stroke-linecap="round"/>
<path d="M526.2 526.2 L530.0 525.0 L531.2 530.0 L529.5 534.5" fill="none" stroke="#3a3a3a" stroke-width="1.35" stroke-opacity="0.85" stroke-linejoin="round" stroke-linecap="round"/>
</svg>
<div class="lt">Percentage of additional deaths</div>
<div class="sw" style="top:129.0px;background:#800026"></div><div class="ll" style="top:127.1px">≥15</div>
<div class="sw" style="top:143.4px;background:#fc4e2a"></div><div class="ll" style="top:141.9px">10 – &lt; 15</div>
<div class="sw" style="top:157.8px;background:#feb24c"></div><div class="ll" style="top:156.6px">5 – &lt; 10</div>
<div class="sw" style="top:172.2px;background:#fed976"></div><div class="ll" style="top:171.4px">0 – &lt; 5</div>
<div class="sw" style="top:186.6px;background:#ffffcc"></div><div class="ll" style="top:186.1px">≤ 0</div>
<div class="sw" style="top:201.0px;background:#969696"></div><div class="ll" style="top:200.9px">Data not available</div>
<span class="ft" style="left:0.82px;top:537.6px;letter-spacing:-0.10px">Excess</span>
<span class="ft" style="left:34.78px;top:537.6px;letter-spacing:0.22px">mortality</span>
<span class="ft" style="left:78.38px;top:537.6px;letter-spacing:0.20px">is</span>
<span class="ft" style="left:88.02px;top:537.6px;letter-spacing:-0.04px">expressed</span>
<span class="ft" style="left:137.22px;top:537.6px;letter-spacing:0.20px">as</span>
<span class="ft" style="left:150.18px;top:537.6px;letter-spacing:-0.04px">percentage</span>
<span class="ft" style="left:205.12px;top:537.6px;letter-spacing:0.20px">of</span>
<span class="ft" style="left:218.22px;top:537.6px;letter-spacing:0.50px">additional</span>
<span class="ft" style="left:269.27px;top:537.6px;letter-spacing:0.20px">mortality</span>
<span class="ft" style="left:312.12px;top:537.6px;letter-spacing:0.50px">compared</span>
<span class="ft" style="left:0.30px;top:549.4px;letter-spacing:-0.10px">with</span>
<span class="ft" style="left:21.28px;top:549.4px;letter-spacing:0.20px">the</span>
<span class="ft" style="left:38.67px;top:549.4px;letter-spacing:-0.10px">baseline</span>
<span class="ft" style="left:78.38px;top:549.4px;letter-spacing:0.50px">period</span>
<span class="ft" style="left:115.08px;top:549.4px;letter-spacing:0.47px">(2016-2019)</span>
<span class="ft" style="left:0.23px;top:561.2px;letter-spacing:-0.10px">Data</span>
<span class="ft" style="left:23.88px;top:561.2px;letter-spacing:0.20px">for</span>
<span class="ft" style="left:38.80px;top:561.2px;letter-spacing:0.50px">2022</span>
<span class="ft" style="left:67.72px;top:561.2px;letter-spacing:0.20px">are</span>
<span class="ft" style="left:84.58px;top:561.2px;letter-spacing:0.34px">provisional.</span>
<span class="ft" style="left:0.60px;top:573.0px;letter-spacing:-0.10px">Source</span>
<span class="ft" style="left:35.62px;top:573.0px;letter-spacing:0.26px">dataset:</span>
<span class="ft" style="left:76.03px;top:573.0px;letter-spacing:0.39px">demo_mexrt</span>
<span class="ft" style="left:314.80px;top:537.6px;letter-spacing:0.24px">Administrative</span>
<span class="ft" style="left:384.68px;top:537.6px;letter-spacing:0.17px">boundaries:</span>
<span class="ft" style="left:442.68px;top:537.6px;letter-spacing:0.20px">©</span>
<span class="ft" style="left:452.32px;top:537.6px;letter-spacing:0.19px">EuroGeographics</span>
<span class="ft" style="left:536.78px;top:537.6px;letter-spacing:0.20px">©</span>
<span class="ft" style="left:545.35px;top:537.6px;letter-spacing:0.11px">UN–FAO</span>
<span class="ft" style="left:589.67px;top:537.6px;letter-spacing:0.20px">©</span>
<span class="ft" style="left:599.35px;top:537.6px;letter-spacing:-0.07px">Turkstat</span>
<span class="ft" style="left:360.20px;top:549.4px;letter-spacing:-0.10px">Cartography:</span>
<span class="ft" style="left:422.72px;top:549.4px;letter-spacing:0.31px">Eurostat</span>
<span class="ft" style="left:466.50px;top:549.4px;letter-spacing:0.20px">–</span>
<span class="ft" style="left:474.52px;top:549.4px;letter-spacing:-0.10px">IMAGE,</span>
<span class="ft" style="left:513.05px;top:549.4px;letter-spacing:0.43px">11/2022</span>
<div class="logo">ec.europa.eu/<b>eurostat</b></div>
<div class="flag"><svg width="25.1" height="16.3" viewBox="0 0 25 16" preserveAspectRatio="none" style="display:block"><g fill="#f5d000"><circle cx="12.50" cy="3.00" r="0.75"/><circle cx="15.00" cy="3.67" r="0.75"/><circle cx="16.83" cy="5.50" r="0.75"/><circle cx="17.50" cy="8.00" r="0.75"/><circle cx="16.83" cy="10.50" r="0.75"/><circle cx="15.00" cy="12.33" r="0.75"/><circle cx="12.50" cy="13.00" r="0.75"/><circle cx="10.00" cy="12.33" r="0.75"/><circle cx="8.17" cy="10.50" r="0.75"/><circle cx="7.50" cy="8.00" r="0.75"/><circle cx="8.17" cy="5.50" r="0.75"/><circle cx="10.00" cy="3.67" r="0.75"/></g></svg></div>
</body></html>
